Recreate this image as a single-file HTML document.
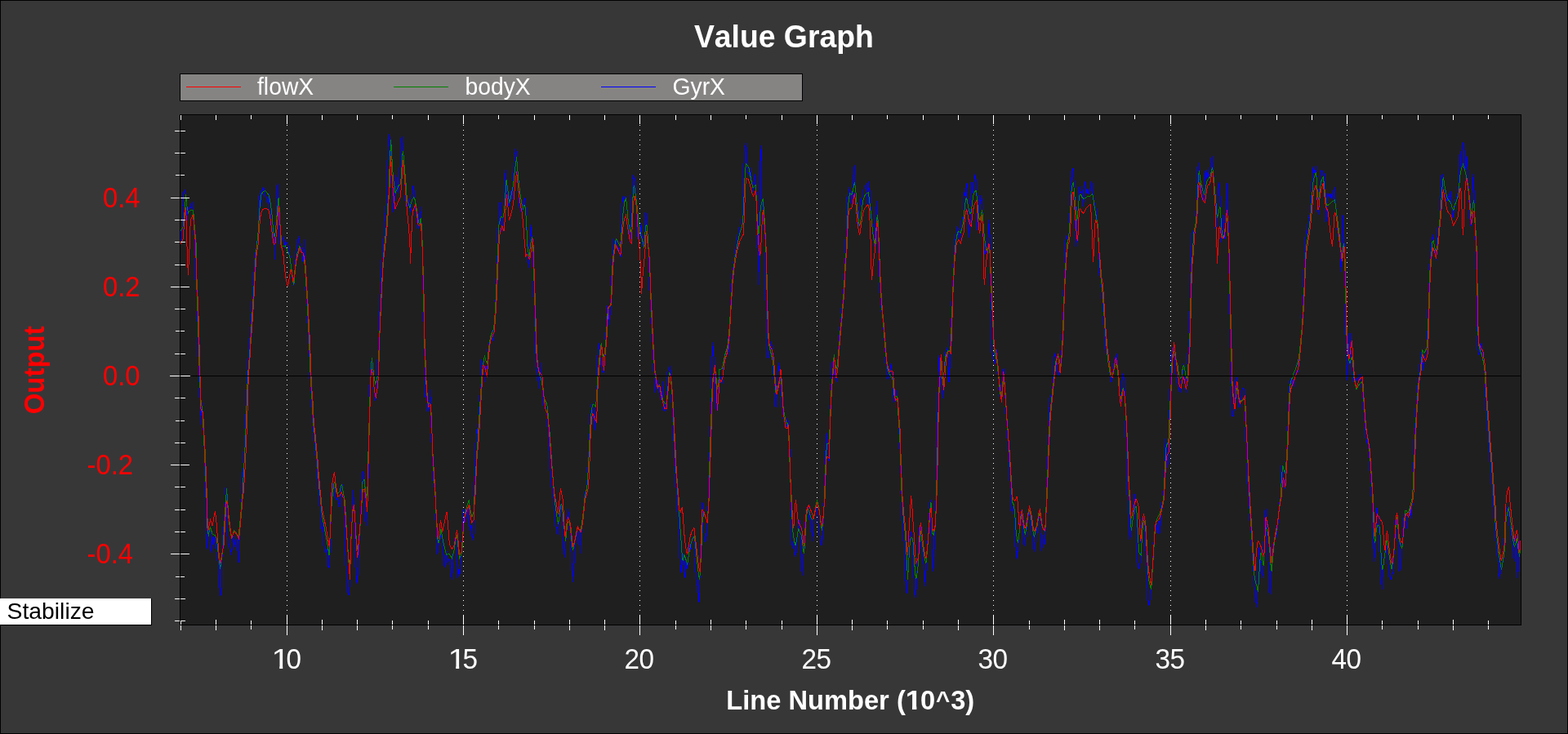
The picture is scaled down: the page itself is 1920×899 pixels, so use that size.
<!DOCTYPE html>
<html lang="en">
<head>
<meta charset="utf-8">
<title>Value Graph</title>
<style>
html,body{margin:0;padding:0;background:#373738;overflow:hidden}
body{width:1920px;height:899px;position:relative;font-family:"Liberation Sans",sans-serif}
#pane{position:absolute;left:0;top:0;width:1920px;height:899px;box-sizing:border-box;border:1px solid #000;background:#373738}
svg{position:absolute;left:0;top:0;display:block}
svg text{font-family:"Liberation Sans",sans-serif;font-kerning:none;font-variant-ligatures:none}
#shapes{shape-rendering:crispEdges}
#mode{position:absolute;left:0;top:733px;width:185px;height:32px;background:#fff;border-right:1px solid #000;border-bottom:1px solid #000;box-sizing:content-box;color:#000;font-size:28.3px;line-height:32px;white-space:nowrap;font-kerning:none}
#mode span{position:absolute;left:8.6px;top:-1px}
</style>
</head>
<body>
<div id="pane"></div>
<svg width="1920" height="899" viewBox="0 0 1920 899">
<defs><clipPath id="k0"><rect x="-2" y="-33.30" width="33.30" height="30.11"/><rect x="8.17" y="-3.69" width="3.34" height="4.49"/></clipPath><clipPath id="k1"><rect x="-2" y="-33.30" width="33.30" height="30.11"/><rect x="8.17" y="-3.69" width="3.34" height="4.49"/></clipPath><clipPath id="k2"><rect x="-2" y="-32.65" width="32.65" height="28.62"/><rect x="7.42" y="-4.53" width="4.88" height="5.33"/></clipPath><clipPath id="cc"><rect x="221" y="141" width="1641" height="624"/></clipPath></defs>
<g id="shapes">
<rect x="220" y="140" width="1643" height="626" fill="#1f1f20"/>
<g id="grid"><line x1="351.5" y1="141" x2="351.5" y2="765" stroke="#fff" stroke-width="1" stroke-dasharray="1 5"/><line x1="567.5" y1="141" x2="567.5" y2="765" stroke="#fff" stroke-width="1" stroke-dasharray="1 5"/><line x1="783.5" y1="141" x2="783.5" y2="765" stroke="#fff" stroke-width="1" stroke-dasharray="1 5"/><line x1="1000.5" y1="141" x2="1000.5" y2="765" stroke="#fff" stroke-width="1" stroke-dasharray="1 5"/><line x1="1216.5" y1="141" x2="1216.5" y2="765" stroke="#fff" stroke-width="1" stroke-dasharray="1 5"/><line x1="1433.5" y1="141" x2="1433.5" y2="765" stroke="#fff" stroke-width="1" stroke-dasharray="1 5"/><line x1="1649.5" y1="141" x2="1649.5" y2="765" stroke="#fff" stroke-width="1" stroke-dasharray="1 5"/></g>
<g id="curves" clip-path="url(#cc)"><polyline points="221.17,295.06 222.26,290.89 223.51,276.71 224.34,235.84 226.43,233.34 227.26,237.51 228.51,251.69 229.34,270.04 230.18,256.69 232.26,253.36 233.93,255.03 235.35,247.1 236.02,255.03 236.85,266.7 237.68,283.38 238.94,299.98 238.94,310 239.69,338.36 240.69,351.71 241.35,363.39 242.02,395.09 242.52,406.76 243.02,436.79 243.69,459.98 243.69,460 244.19,473.35 245.03,486.69 245.36,520.06 246.36,503.38 247.53,493.37 248.36,510.05 249.2,531.74 249.7,541.75 250.36,553.43 250.86,580.12 251.7,598.47 252.03,609.98 252.03,610 252.03,631.69 252.53,655.05 254.2,673.4 255.04,651.71 256.7,646.7 258.04,663.39 259.21,676.73 260.87,656.71 262.54,671.73 263.71,655.05 265.38,666.72 266.71,681.74 268.38,710.1 269.72,730.12 270.88,726.78 271.72,690.08 273.05,653.38 274.22,643.37 275.39,623.35 276.39,610 276.39,596.8 277.56,610 278.39,635.03 279.23,663.39 280.89,670.06 282.56,673.4 283.73,680.07 284.73,658.38 286.4,656.71 287.57,670.06 289.24,660.05 290.9,673.4 292.07,689.25 293.07,660.05 294.24,640.03 295.41,620.01 296.08,610 296.08,609.98 296.41,598.47 296.74,578.45 297.58,583.46 298.41,563.44 299.75,540.08 300.75,515.06 301.75,485.03 302.58,460 302.58,459.98 303.92,440.13 305.42,423.45 306.75,403.43 308.09,383.41 309.26,365.06 310.42,343.37 311.42,326.68 312.26,315.01 312.93,310 316.08,291.72 316.5,270.04 317.33,241.68 318.59,238.34 319.42,233.34 320.25,253.36 321.5,230 322.76,232.51 323.59,231.26 324.42,239.18 326.09,241.68 326.93,245.85 328.18,248.35 329.43,236.68 329.84,245.85 331.1,258.36 332.35,275.04 334.43,286.72 336.1,299.98 336.1,317.51 337.35,278.38 338.19,270.04 338.6,238.34 340.27,225 340.69,241.68 341.52,271.71 341.94,290.05 343.19,299.98 347.63,289.3 348.8,303.48 350.13,296.8 351.8,298.47 353.47,301.81 354.8,309.98 355.14,315.01 356.8,328.35 358.47,345.04 359.81,350.04 360.97,336.69 361.81,320.01 362.64,310 362.64,309.98 365.48,289.3 367.65,301.81 370.15,309.98 370.98,320.84 372.65,292.63 373.15,310 373.82,326.68 374.49,348.37 375.49,363.39 376.49,385.08 377.32,401.76 378.16,425.12 378.99,436.79 379.83,459.98 379.83,460 380.66,476.68 381.83,495.04 383,518.39 384.33,531.74 385.67,548.42 387.33,560.1 388.5,580.12 389.84,598.47 391.5,609.98 391.5,610 392.67,631.69 394.34,651.71 395.51,640.03 397.18,671.73 398.85,676.73 400.51,671.73 401.85,693.42 403.18,695.09 404.02,676.73 405.19,635.03 406.19,610 406.52,609.98 407.69,591.8 409.36,598.47 411.02,609.98 411.86,612.5 413.53,610 416.03,620.84 416.86,610 417.7,598.47 419.37,593.47 420.7,609.98 421.53,610 422.2,635.03 422.7,676.73 423.87,690.08 424.87,710.1 425.54,725.12 427.21,729.29 428.54,711.77 429.38,666.72 430.54,643.37 431.54,623.35 432.21,610 432.21,600.14 432.71,609.98 433.55,610 434.38,643.37 435.55,676.73 436.38,710.1 437.38,715.11 438.55,696.75 439.39,673.4 440.55,651.71 441.55,626.68 442.72,610 442.72,609.98 443.56,578.45 444.89,577.62 446.06,593.47 446.89,609.98 446.89,610 447.23,631.69 448.56,644.2 449.4,626.68 450.23,610 450.23,609.98 451.06,585.13 451.56,550.09 451.9,526.73 452.4,501.71 452.9,476.68 453.23,460 453.23,459.98 454.9,441.8 456.07,455.15 456.9,459.98 457.24,460 458.24,481.69 459.91,490.86 461.07,480.02 462.24,460 462.24,459.98 462.74,446.8 463.58,426.78 464.41,400.09 465.25,373.4 466.25,355.05 466.91,330.02 468.08,316.67 468.92,310 468.92,309.98 469.42,305.15 471.08,270.11 473.25,250.09 474.42,216.72 475.59,176.68 476.42,164.17 477.76,171.68 478.59,193.37 479.43,215.06 480.59,235.08 481.59,260.1 482.76,250.09 483.93,233.41 484.76,214.22 486.1,230.07 487.43,236.74 488.94,226.73 490.27,200.04 491.6,170.01 492.44,167.51 493.61,183.36 494.94,210.05 496.11,230.07 497.28,250.09 498.95,253.43 500.28,242.58 501.61,253.43 502.78,260.1 504.45,243.42 506.12,226.73 507.29,235.08 508.62,253.43 510.29,266.77 511.96,280.12 513.29,273.45 514.46,252.59 515.63,266.77 516.63,283.46 517.3,309.98 517.3,310 517.46,335.03 518.13,358.38 518.63,376.73 519.13,400.09 519.63,426.78 520.3,443.47 520.97,459.98 520.97,460 520.97,486.69 521.97,481.69 523.3,493.37 523.97,504.21 525.64,498.37 526.64,477.52 527.31,493.37 527.81,521.73 528.64,530.07 529.48,555.1 529.98,570.11 530.64,586.79 531.64,591.8 532.65,606.81 533.31,609.98 533.31,610 533.31,623.35 534.15,640.03 534.98,665.06 535.82,679.24 536.98,668.39 538.65,660.05 539.99,651.71 540,651.71 541.67,665.06 543,680.07 544.17,695.09 545.34,683.41 546.67,675.07 548.34,691.75 549.68,685.08 551.34,685.91 552.51,703.43 553.35,710.1 554.68,693.42 555.85,676.73 557.02,658.38 558.69,665.06 560.02,693.42 560.85,707.6 562.02,696.75 563.02,703.43 564.19,688.41 565.86,666.72 567.03,626.68 568.36,623.35 570.03,640.03 571.7,631.69 573.37,621.68 575.37,650.04 577.04,643.37 578.37,661.72 580.04,653.38 580.87,626.68 580.87,598.47 581.37,570.11 582.54,556.76 583.38,530.07 584.21,525.07 585.38,533.41 586.38,510.05 587.55,488.36 588.38,480.02 589.38,465.01 589.55,459.98 589.72,440.13 590.88,446.8 592.55,448.47 594.22,453.48 594.22,467.51 595.06,448.47 596.72,455.15 597.56,435.13 598.39,420.11 600.06,418.44 601.73,413.44 604.23,416.77 605.07,403.43 605.9,390.08 606.73,376.73 607.23,360.05 607.9,346.7 608.4,320.01 609.24,310 609.24,309.98 610.07,276.78 611.4,248.42 613.41,248.42 614.24,283.46 615.91,276.78 617.08,260.1 618.08,223.4 619.25,208.38 620.41,230.07 621.75,240.08 622.92,253.43 623.92,240.08 625.42,233.41 626.75,246.75 628.09,233.41 629.26,205.05 630.42,195.04 631.42,182.52 632.59,188.36 633.43,210.05 634.76,230.07 635.6,250.09 637.1,255.1 638.43,260.1 639.77,253.43 641.43,246.75 643.44,241.75 644.27,260.1 645.11,280.12 646.27,305.15 646.77,320.01 647.61,328.35 648.44,316.67 649.28,283.46 650.44,275.12 651.44,298.47 652.61,310 653.11,331.69 653.78,353.38 654.28,376.73 655.12,403.43 655.95,430.12 656.45,451.81 657.62,455.15 658.79,459.98 659.29,475.85 660.12,463.34 661.45,444.3 662.62,459.98 663.46,461.67 664.29,476.68 665.13,496.7 666.79,493.37 668.46,500.04 670.13,510.05 671.3,526.73 672.3,540.08 673.13,553.43 673.8,573.45 674.63,588.46 675.97,596.8 677.14,606.81 678.14,609.98 678.14,610 678.81,618.34 679.47,636.69 680.97,645.04 682.14,646.7 683.14,655.05 683.98,643.37 685.15,626.68 686.48,616.67 687.65,620.01 688.48,640.03 689.32,668.39 690.65,675.07 691.48,683.41 692.65,665.06 693.82,653.38 694.82,633.36 695.66,623.35 696.82,635.03 698.16,651.71 699.33,665.06 700.49,683.41 701.49,713.44 702.66,696.75 703.83,675.07 705.17,665.06 706.83,650.04 708.5,651.71 709.84,665.06 710.5,677.57 711.5,660.05 712.67,643.37 713.84,630.02 714.84,623.35 715.51,610 715.51,606.81 716.51,603.48 718.18,600.14 719.35,583.46 720.51,563.44 721.51,543.42 722.18,526.73 722.68,508.38 724.02,501.71 725.19,494.2 726.52,506.71 727.35,516.72 728.19,526.73 729.02,503.38 729.86,493.37 730.52,481.69 731.36,465.01 731.36,446.8 731.86,436.79 733.19,420.11 734.03,426.78 735.2,440.13 736.53,443.47 737.36,455.15 739.37,455.98 740.2,438.46 741.03,426.78 741.87,410.1 742.7,395.09 743.54,375.07 744.87,376.73 745.71,388.41 746.54,398.42 747.37,376.73 748.21,363.39 748.88,341.7 749.54,325.02 750.21,313.34 750.54,309.98 751.54,291.8 752.71,300.14 754.05,293.47 755.55,298.47 756.88,303.48 758.55,305.15 759.39,309.98 760.22,315.01 760.55,291.8 761.55,253.43 762.72,241.75 763.56,243.42 764.39,250.09 765.23,243.42 766.39,240.08 767.23,250.09 768.23,260.1 769.4,273.45 770.73,291.8 771.9,296.8 772.73,266.77 773.57,246.75 774.4,230.07 775.24,214.22 776.57,216.72 778.24,222.56 778.91,238.41 779.41,263.44 779.91,283.46 781.07,290.13 782.74,293.47 783.91,286.79 785.25,273.45 786.08,290.13 787.25,301.81 788.58,298.47 789.42,276.78 790.75,260.1 791.92,263.44 792.75,280.12 793.59,300.14 794.42,309.98 794.42,310 794.92,331.69 795.59,346.7 796.42,365.06 797.26,388.41 798.26,400.09 798.93,416.77 799.59,435.13 800.26,443.47 801.09,456.81 801.93,459.98 801.93,460 802.76,480.85 803.93,470.01 805.27,465.01 806.6,473.35 808.1,481.69 809.44,490.03 810.6,481.69 811.44,466.67 812.27,503.38 813.61,495.04 814.94,504.21 816.11,490.03 816.94,473.35 817.78,460 817.78,455.15 819.45,451.81 820.61,447.64 821.61,459.98 821.61,460 822.28,476.68 823.12,495.04 823.95,515.06 824.78,535.08 825.62,553.43 826.45,568.44 827.29,583.46 828.12,598.47 829.12,606.81 829.79,609.98 829.79,610 829.96,626.68 830.62,631.69 831.62,643.37 832.79,676.73 833.63,701.76 834.79,696.75 835.8,676.73 836.96,681.74 838.13,703.43 838.97,708.43 839.97,686.74 841.13,696.75 842.3,690.08 843.3,676.73 844.47,666.72 846.14,673.4 847.31,661.72 848.64,658.38 849.98,660.05 851.14,685.08 852.31,706.76 853.65,713.44 854.81,723.45 856.15,738.46 856.98,710.1 857.82,666.72 858.99,660.05 859.99,623.35 860,615.01 860.83,643.37 862,653.38 863.34,663.39 864.67,661.72 865.84,646.7 866.67,626.68 867.51,610 867.51,605.15 867.84,590.13 868.34,568.44 869.18,550.09 869.68,533.41 870.34,510.05 870.84,493.37 871.34,476.68 871.68,460 871.68,446.8 872.51,419.28 873.68,430.12 874.51,446.8 875.02,459.98 875.35,460 876.18,498.37 877.52,502.54 878.69,485.03 880.02,470.01 881.35,460 882.52,461.67 884.19,470.01 885.03,460 885.03,459.98 886.36,446.8 887.53,436.79 889.2,430.12 890.86,425.12 891.7,435.13 892.53,423.45 893.37,413.44 893.87,393.42 894.53,380.07 895.37,356.71 896.2,345.04 897.04,335.03 898.04,326.68 899.21,318.34 900.37,310 900.87,306.81 902.21,293.47 903.71,288.46 905.38,278.45 906.71,283.46 908.38,276.78 909.55,260.1 910.38,218.39 911.38,190.03 912.55,181.69 913.39,175.02 914.55,185.03 915.39,208.38 916.72,215.06 918.06,205.05 919.23,210.05 920.39,216.72 921.39,226.73 922.56,235.08 923.73,225.07 924.56,213.39 925.57,216.72 926.23,243.42 926.73,273.45 927.57,296.8 928.4,309.98 928.4,349.21 929.24,326.68 929.74,310 929.74,283.46 930.4,226.73 931.4,178.35 932.24,185.03 932.91,243.42 933.91,251.76 934.74,266.77 935.58,280.12 936.74,285.13 937.58,309.98 937.58,310 937.74,335.03 938.08,376.73 938.41,418.44 939.25,436.79 940.91,438.46 942.58,433.46 943.92,423.45 944.58,417.61 945.42,426.78 946.42,440.13 947.09,459.98 948.09,465.01 949.26,481.69 950.09,499.21 950.92,490.03 951.76,476.68 952.59,465.01 953.43,444.3 954.76,451.81 955.43,459.98 955.93,465.01 956.76,481.69 957.93,498.37 959.27,510.05 960.6,515.06 961.77,518.39 963.1,523.4 964.27,512.55 965.11,515.06 965.77,526.73 966.44,546.75 967.27,551.76 967.61,575.12 968.11,593.47 968.44,609.98 968.44,610 969.28,643.37 970.11,671.73 971.44,663.39 972.61,668.39 974.28,681.74 975.45,673.4 976.45,660.05 977.62,641.7 979.29,636.69 980.12,660.05 980.95,686.74 981.79,698.42 982.62,705.1 983.46,690.08 984.29,673.4 985.13,651.71 986.29,635.03 987.63,625.02 989.3,620.01 990.63,636.69 991.8,628.35 992.97,638.36 993.97,651.71 994.63,663.39 995.47,648.37 996.8,633.36 998.14,623.35 999.31,620.01 1000.97,630.02 1002.14,643.37 1003.48,651.71 1004.81,663.39 1005.98,668.39 1007.15,660.05 1007.98,643.37 1008.82,620.01 1009.32,610 1009.32,609.98 1009.65,590.13 1010.48,566.77 1010.98,553.43 1011.48,536.74 1012.32,530.07 1013.15,543.42 1013.99,556.76 1015.16,565.11 1015.66,543.42 1016.32,526.73 1016.82,501.71 1017.32,486.69 1017.99,470.01 1018.49,460 1018.49,446.8 1019.66,441.8 1020.49,459.98 1021.49,461.67 1022.16,451.81 1023.16,459.98 1024.33,467.51 1025.17,455.15 1026,440.13 1026.83,426.78 1027.67,413.44 1028.84,401.76 1029.84,390.08 1031,376.73 1032.17,365.06 1033.17,351.71 1034.01,335.03 1034.84,318.34 1035.51,310 1035.51,306.81 1036.01,293.47 1036.51,256.76 1037.34,241.75 1038.51,243.42 1039.35,235.08 1040.51,229.24 1041.51,236.74 1042.68,246.75 1043.52,251.76 1044.35,240.08 1045.19,206.71 1046.35,202.54 1047.19,226.73 1048.19,243.42 1049.02,260.1 1049.86,273.45 1051.02,276.78 1052.19,266.77 1053.19,250.09 1054.36,241.75 1055.53,251.76 1056.86,246.75 1058.03,231.74 1059.37,228.4 1061.37,225.07 1062.2,248.42 1063.2,250.09 1064.37,221.73 1065.21,236.74 1066.04,253.43 1067.21,263.44 1068.21,276.78 1069.38,286.79 1070.54,301.81 1071.54,280.12 1072.38,261.77 1073.55,245.92 1074.38,276.78 1075.22,301.81 1076.05,309.98 1076.05,310 1076.38,326.68 1077.22,343.37 1078.05,360.05 1078.89,376.73 1080.22,383.41 1081.39,393.42 1082.39,410.1 1083.56,423.45 1084.39,436.79 1085.23,448.47 1086.06,459.98 1086.56,463.34 1087.73,464.17 1089.4,455.15 1090.73,445.14 1091.9,455.15 1092.73,459.98 1093.23,465.01 1093.57,476.68 1094.4,493.37 1095.57,490.03 1096.9,476.68 1097.74,484.19 1098.91,486.69 1099.74,501.71 1100.57,515.06 1101.07,533.41 1101.91,546.75 1102.41,563.44 1103.08,581.79 1103.91,603.48 1104.41,609.98 1104.41,610 1104.74,635.03 1105.58,643.37 1106.58,660.05 1107.75,666.72 1108.58,700.09 1109.42,723.45 1110.25,726.78 1111.42,710.1 1112.25,676.73 1113.25,660.05 1114.42,653.38 1115.59,651.71 1116.92,660.05 1118.09,683.41 1118.93,706.76 1119.76,720.11 1120.76,728.45 1121.59,731.79 1122.43,713.44 1123.26,693.42 1124.43,676.73 1125.27,650.04 1126.43,643.37 1127.43,646.7 1128.6,666.72 1129.94,683.41 1131.1,691.75 1132.27,700.09 1133.27,717.61 1134.11,696.75 1135.28,673.4 1136.61,653.38 1137.78,631.69 1138.95,615.01 1139.45,611.67 1140.28,631.69 1141.11,660.05 1141.95,680.07 1142.78,700.09 1143.62,685.08 1144.45,660.05 1145.29,635.03 1146.12,610 1146.12,609.98 1146.29,590.13 1146.62,566.77 1146.95,543.42 1147.45,518.39 1148.12,501.71 1148.96,481.69 1149.46,468.34 1149.96,460 1149.96,438.46 1150.62,435.13 1151.12,459.98 1151.96,460 1153.29,473.35 1154.46,488.36 1155.3,476.68 1156.13,460 1156.96,459.98 1157.8,431.79 1159.47,428.45 1160.63,425.12 1161.13,440.13 1161.63,459.98 1161.97,468.34 1162.8,459.98 1163.3,436.79 1163.64,413.44 1164.47,403.43 1165.31,383.41 1166.14,366.72 1166.97,343.37 1167.81,326.68 1168.64,310 1168.64,309.98 1168.98,293.47 1170.31,291.8 1171.64,280.12 1172.81,277.62 1173.98,283.46 1175.32,293.47 1176.48,286.79 1177.48,273.45 1178.65,265.11 1179.49,268.44 1180,266.77 1180.83,235.08 1182,240.08 1183,230.07 1184.17,224.23 1185.01,243.42 1185.84,276.78 1186.67,290.96 1188.01,273.45 1189.18,253.43 1190.01,223.4 1191.18,226.73 1192.01,236.74 1193.01,223.4 1194.18,213.39 1195.35,221.73 1196.18,240.08 1196.68,281.79 1198.02,266.77 1199.19,240.08 1200.35,239.25 1201.35,250.09 1202.19,243.42 1203.02,260.1 1203.69,280.12 1204.69,293.47 1205.86,309.98 1205.86,311.67 1206.69,310 1207.53,303.48 1208.7,309.98 1209.7,298.47 1210.53,280.12 1211.36,269.28 1212.03,286.79 1212.53,309.98 1212.53,310 1212.87,346.7 1213.7,365.06 1214.2,386.74 1214.7,410.1 1215.04,433.46 1216.37,436.79 1217.54,443.47 1218.71,445.14 1220.04,427.62 1220.87,443.47 1221.71,455.15 1222.21,459.98 1223.04,465.01 1223.88,476.68 1224.71,485.03 1225.88,488.36 1226.71,476.68 1227.21,463.34 1227.55,453.48 1229.22,451.81 1229.72,459.98 1230.05,468.34 1230.88,485.03 1231.72,501.71 1232.55,516.72 1233.39,526.73 1234.22,540.08 1235.06,553.43 1235.56,566.77 1236.39,576.78 1237.06,590.13 1237.56,603.48 1237.89,609.98 1237.89,610 1238.39,625.02 1239.73,625.85 1240.89,620.01 1242.06,630.02 1243.06,650.04 1243.9,668.39 1244.73,683.41 1245.57,681.74 1246.4,670.06 1247.57,660.05 1248.74,643.37 1249.74,631.69 1250.9,625.02 1252.07,643.37 1253.07,656.71 1254.24,669.23 1255.41,663.39 1256.74,651.71 1258.08,640.03 1259.25,630.02 1260.41,626.68 1261.75,636.69 1262.92,646.7 1263.92,655.05 1265.09,663.39 1266.25,675.9 1267.25,671.73 1268.42,660.05 1269.59,646.7 1270.92,638.36 1272.09,633.36 1273.43,635.03 1274.26,660.05 1275.43,675.07 1276.43,668.39 1277.6,655.05 1278.43,665.06 1279.6,666.72 1280.43,643.37 1281.27,623.35 1281.43,610 1281.43,606.81 1281.77,590.13 1282.44,573.45 1283.1,556.76 1283.77,540.08 1284.27,523.4 1284.77,503.38 1285.61,490.03 1286.44,483.36 1287.61,490.03 1288.44,480.02 1289.28,470.01 1290.11,460 1290.11,453.48 1290.94,436.79 1292.61,432.62 1293.78,441.8 1295.12,456.81 1296.28,459.98 1297.28,451.81 1298.45,443.47 1299.79,433.46 1300.62,418.44 1301.29,403.43 1301.79,390.08 1302.29,373.4 1302.96,356.71 1303.46,343.37 1304.12,326.68 1304.79,310 1304.79,306.81 1305.13,288.46 1306.46,290.13 1307.63,293.47 1308.8,290.13 1309.8,266.77 1310.96,236.74 1312.13,215.06 1313.13,208.38 1314.3,205.88 1315.14,223.4 1315.97,243.42 1316.8,273.45 1317.64,301.81 1318.47,290.13 1319.31,266.77 1320.14,250.09 1321.31,235.08 1322.14,228.4 1323.14,236.74 1324.31,235.08 1325.48,233.41 1326.48,253.43 1327.31,245.09 1328.15,223.4 1328.98,222.56 1329.82,230.07 1330.98,236.74 1332.15,231.74 1333.15,235.08 1334.32,238.41 1335.49,230.07 1336.49,222.56 1337.66,226.73 1338.49,238.41 1339.83,246.75 1340.99,253.43 1342.16,255.1 1343.16,260.1 1344,273.45 1344.83,286.79 1345.17,303.48 1345.17,310 1345.67,330.02 1346.5,338.36 1347.33,331.69 1348.17,343.37 1349,351.71 1349.84,363.39 1350.67,376.73 1351.5,390.08 1352.34,403.43 1353.17,416.77 1353.84,426.78 1354.67,432.62 1356.01,433.46 1357.18,440.13 1358.18,446.8 1359.01,456.81 1359.68,459.98 1359.85,461.67 1361.01,467.51 1362.18,463.34 1363.18,451.81 1364.35,441.8 1366.02,436.79 1367.35,434.29 1368.19,443.47 1369.02,453.48 1369.86,459.98 1369.86,463.34 1370.52,476.68 1371.36,490.03 1372.19,493.37 1373.19,480.02 1373.86,468.34 1374.36,460 1375.53,457.65 1376.03,461.67 1376.86,475.02 1377.7,488.36 1378.2,503.38 1378.53,523.4 1379.03,536.74 1379.37,553.43 1379.7,570.11 1380.2,590.13 1380.7,603.48 1381.53,609.98 1381.53,610 1382.2,635.03 1383.04,656.71 1383.87,660.88 1384.87,643.37 1386.04,631.69 1387.21,623.35 1388.54,613.34 1389.04,604.81 1389.88,620.01 1391.04,636.69 1391.88,660.05 1392.71,686.74 1393.88,695.09 1394.88,696.75 1396.05,690.08 1396.88,681.74 1397.72,646.7 1398.55,635.03 1399.39,633.36 1400.55,640.03 1401.89,648.37 1402.72,666.72 1403.56,690.08 1404.39,710.1 1405.23,723.45 1406.06,736.79 1407.23,741.8 1408.23,733.46 1409.4,723.45 1410.23,710.1 1411.06,696.75 1411.9,683.41 1412.73,668.39 1413.57,655.05 1414.4,646.7 1415.57,640.03 1416.57,653.38 1417.74,641.7 1419.07,638.36 1419.91,654.21 1421.07,643.37 1421.91,618.34 1422.74,615.01 1423.58,623.35 1424.41,613.34 1424.91,610 1424.91,605.15 1425.25,590.13 1426.08,573.45 1426.58,556.76 1427.25,536.74 1428.25,543.42 1428.92,556.76 1429.75,573.45 1430.58,560.1 1431.08,533.41 1431.58,510.05 1432.25,496.7 1432.75,481.69 1433.25,470.01 1433.59,459.98 1434.42,436.79 1435.59,425.12 1436.92,430.12 1438.26,440.13 1439.43,453.48 1440.26,459.98 1440.59,461.67 1441.93,468.34 1443.6,475.02 1445.27,480.85 1446.43,470.01 1447.43,463.34 1448.27,455.15 1449.44,445.14 1450.6,451.81 1451.6,459.98 1451.6,470.01 1452.27,480.85 1453.27,468.34 1454.11,460 1454.44,443.47 1455.28,426.78 1456.11,413.44 1456.61,400.09 1456.94,383.41 1457.44,366.72 1457.78,343.37 1458.28,326.68 1458.95,310 1458.95,306.81 1459.11,293.47 1460.28,281.79 1461.61,288.46 1462.78,280.12 1464.12,273.45 1464.95,260.1 1465.79,233.41 1466.62,208.38 1467.45,199.21 1468.29,215.06 1469.12,231.74 1470.29,226.73 1471.62,235.08 1472.79,240.08 1473.96,246.75 1474.96,226.73 1475.8,209.22 1476.63,221.73 1477.46,215.06 1478.3,208.38 1479.13,218.39 1480.3,213.39 1481.47,215.06 1482.3,200.04 1483.3,196.7 1484.47,190.86 1485.31,203.38 1486.14,216.72 1486.97,230.07 1488.14,253.43 1488.98,280.12 1489.81,266.77 1490.81,253.43 1491.98,230.07 1493.31,223.4 1494.15,243.42 1494.98,276.78 1495.82,296.8 1496.65,280.12 1497.48,263.44 1498.32,276.78 1498.99,291.8 1499.99,288.46 1500,292.63 1500.5,276.78 1501.17,260.1 1502,246.75 1502.5,233.41 1503,224.23 1503.5,240.08 1504,270.11 1504.5,293.47 1504.67,309.98 1504.67,310 1505.01,335.03 1505.51,360.05 1506.01,385.08 1506.34,401.76 1506.67,416.77 1507.17,430.12 1507.51,443.47 1507.84,459.98 1507.84,460 1508.01,470.01 1508.17,490.03 1508.34,509.22 1509.51,509.22 1510.84,509.22 1511.34,493.37 1512.01,476.68 1513.01,465.01 1514.18,461.67 1514.68,473.35 1515.35,485.03 1516.18,490.03 1517.18,493.37 1518.02,499.21 1518.85,493.37 1520.02,485.03 1521.19,476.68 1522.19,475.02 1523.36,476.68 1523.86,485.03 1524.36,496.7 1524.69,510.05 1525.36,523.4 1525.86,536.74 1526.36,550.09 1527.03,563.44 1527.53,576.78 1527.86,590.13 1528.7,603.48 1529.36,609.98 1529.36,610 1530.03,623.35 1530.86,635.03 1531.7,648.37 1532.53,660.05 1533.37,675.07 1534.2,690.08 1535.04,700.09 1535.87,716.77 1536.7,730.12 1537.87,736.79 1538.71,744.3 1539.54,730.12 1540.37,710.1 1541.21,683.41 1542.04,670.06 1543.04,680.07 1544.21,690.08 1545.38,708.43 1546.38,703.43 1547.55,693.42 1548.05,660.05 1548.72,631.69 1549.55,626.68 1550.38,623.35 1550.88,643.37 1551.72,656.71 1552.55,680.07 1553.39,693.42 1554.22,713.44 1554.72,725.12 1555.56,726.78 1556.39,716.77 1557.06,693.42 1557.56,670.06 1558.39,668.39 1559.56,665.06 1560.89,661.72 1562.23,658.38 1563.4,656.71 1564.23,646.7 1565.07,640.03 1565.57,631.69 1566.4,620.01 1567.23,613.34 1568.07,610 1568.07,605.15 1568.74,586.79 1569.24,570.11 1570.07,576.78 1570.9,586.79 1571.74,596.8 1572.57,591.8 1573.41,598.47 1574.24,583.46 1575.08,563.44 1575.91,550.09 1576.41,536.74 1577.08,520.06 1577.58,503.38 1578.08,490.03 1578.75,475.02 1579.75,466.67 1580.91,463.34 1582.08,470.01 1583.42,465.01 1584.25,474.18 1585.09,465.01 1585.92,460 1586.42,459.98 1587.59,455.15 1588.92,456.81 1590.09,443.47 1591.42,435.13 1592.59,423.45 1593.43,413.44 1594.26,403.43 1594.76,390.08 1595.43,376.73 1595.93,363.39 1596.43,350.04 1596.76,336.69 1597.26,323.35 1597.93,310 1598.1,306.81 1598.77,293.47 1599.6,281.79 1600.6,286.79 1601.77,276.78 1602.6,266.77 1603.77,266.77 1604.77,253.43 1605.61,243.42 1606.44,233.41 1607.27,216.72 1608.11,204.21 1608.94,211.72 1609.78,208.38 1610.61,211.72 1611.44,203.38 1612.11,216.72 1612.95,226.73 1613.45,253.43 1614.28,263.44 1615.12,250.09 1615.95,231.74 1616.78,216.72 1617.62,210.05 1618.79,208.38 1619.79,210.05 1620.95,215.06 1622.29,213.39 1622.96,233.41 1623.46,260.1 1623.96,271.78 1624.79,253.43 1625.63,238.41 1626.79,240.08 1627.96,236.74 1628.96,243.42 1629.8,236.74 1630.96,241.75 1631.8,243.42 1632.63,233.41 1633.97,231.74 1634.8,229.24 1635.47,246.75 1636.3,260.1 1637.14,273.45 1638.14,283.46 1639.31,291.8 1640.47,298.47 1641.47,305.15 1641.47,333.36 1642.31,323.35 1643.14,310 1643.81,263.44 1644.64,265.11 1645.15,298.47 1645.98,296.8 1646.48,309.98 1646.48,310 1646.81,335.03 1647.15,360.05 1647.48,380.07 1647.81,400.09 1648.15,416.77 1648.82,433.46 1649.32,451.81 1649.48,459.98 1649.65,465.84 1650.15,459.98 1650.65,455.15 1651.48,436.79 1652.15,416.77 1652.99,407.6 1653.82,426.78 1654.82,440.13 1655.66,456.81 1656.32,459.98 1656.49,461.67 1657.66,466.67 1659.33,465.01 1660.99,463.34 1662.66,466.67 1664.33,463.34 1665.17,457.65 1666.33,461.67 1667.33,465.01 1668.17,476.68 1668.84,486.69 1669.67,496.7 1670.5,508.38 1671.34,520.06 1672.34,530.07 1673.51,542.58 1674.67,540.08 1675.51,543.42 1676.34,553.43 1677.18,563.44 1677.68,573.45 1678.51,583.46 1679.01,593.47 1679.68,605.15 1680.18,609.98 1680.18,610 1680.51,631.69 1681.01,651.71 1681.85,668.39 1682.68,687.58 1683.52,676.73 1684.35,660.05 1685.19,643.37 1686.02,621.68 1686.85,630.02 1688.02,641.7 1689.02,653.38 1689.86,673.4 1690.69,690.08 1691.52,706.76 1692.36,721.78 1693.19,703.43 1694.03,690.08 1695.2,680.07 1696.36,673.4 1697.36,663.39 1698.53,673.4 1699.7,686.74 1700.7,700.09 1701.87,706.76 1703.04,710.1 1704.37,702.59 1706.04,701.76 1706.87,683.41 1707.71,660.05 1708.54,643.37 1709.38,631.69 1710.21,633.36 1711.04,643.37 1711.88,660.05 1712.71,676.73 1713.55,700.09 1715.22,696.75 1716.05,683.41 1716.88,666.72 1717.72,651.71 1718.55,638.36 1719.39,630.02 1720.22,631.69 1721.05,640.03 1721.89,648.37 1722.72,641.7 1723.56,635.03 1724.39,631.69 1725.56,628.35 1726.56,626.68 1727.73,625.02 1728.23,635.03 1728.9,620.01 1729.73,610 1729.73,609.98 1730.23,590.13 1730.73,573.45 1731.4,556.76 1731.9,540.08 1732.73,523.4 1733.57,506.71 1734.4,493.37 1735.24,481.69 1736.07,471.68 1736.9,463.34 1737.74,460 1737.74,459.98 1738.57,451.81 1739.41,441.8 1740.57,430.95 1741.57,440.13 1742.74,454.31 1743.58,443.47 1744.74,436.79 1746.08,433.46 1746.91,426.78 1747.58,416.77 1748.08,403.43 1748.58,390.08 1749.08,376.73 1749.58,360.05 1750.08,343.37 1750.58,330.02 1751.25,318.34 1751.92,310 1751.92,306.81 1752.75,298.47 1754.42,286.79 1755.26,293.47 1756.42,301.81 1757.76,309.98 1758.26,319.18 1759.43,298.47 1760.59,280.12 1761.43,278.45 1762.26,286.79 1763.1,266.77 1763.93,243.42 1764.76,215.06 1765.77,214.22 1766.6,213.39 1767.43,226.73 1768.6,236.74 1769.94,240.08 1771.1,243.42 1772.27,246.75 1773.61,236.74 1774.77,246.75 1776.11,234.24 1777.28,243.42 1778.11,256.76 1778.95,266.77 1780.28,260.1 1781.45,250.09 1782.78,245.09 1784.12,240.08 1785.29,236.74 1786.45,223.4 1787.29,200.04 1788.29,185.03 1789.12,193.37 1789.96,206.71 1791.12,175.02 1791.96,174.18 1793.13,185.03 1793.96,208.38 1795.3,203.38 1796.13,190.86 1796.96,206.71 1797.8,223.4 1798.63,240.08 1799.47,256.76 1800.3,273.45 1801.47,276.78 1802.47,260.1 1803.3,223.4 1804.47,213.39 1805.31,243.42 1806.14,273.45 1806.97,293.47 1807.81,309.98 1807.81,310 1807.97,326.68 1808.14,338.36 1808.31,360.05 1808.48,376.73 1808.64,393.42 1809.14,410.1 1809.81,426.78 1810.64,433.46 1811.64,434.29 1812.81,430.12 1814.15,420.11 1814.81,426.78 1815.65,438.46 1816.65,443.47 1817.48,451.81 1818.32,459.98 1818.32,460 1818.32,468 1818.4,475 1819.5,495 1820.5,510 1821.5,520 1822.5,535 1823.5,548 1824.5,560 1825.5,572 1826.5,585 1827.5,600 1828.4,612 1829.3,625 1830.4,640 1831.3,655 1832.5,668 1833.6,678.7 1835.4,690 1835.5,703.5 1836.5,708.7 1837.4,698 1838.5,693 1839.4,689 1840.5,686 1841.6,683 1842.3,642 1843.5,635 1844.6,632 1845.5,627.5 1845.8,622.3 1846.6,620 1847.5,628 1848.4,640 1849.5,648 1850.7,653.5 1851.5,660 1852.4,670 1853.6,680 1854.4,688 1854.6,674 1855.3,665 1856.4,656 1857.3,670 1857.4,690 1858.5,707.9 1859.6,690 1860.5,662" fill="none" stroke="#0000ff" stroke-width="1"/><polyline points="221.17,282.55 223.92,278.38 226.01,260.03 227.68,238.34 228.51,250.02 230.6,260.86 233.51,257.11 236.43,257.11 237.27,265.03 238.52,281.71 239.77,294.22 240.19,299.98 240.19,310 240.35,338.36 241.35,363.39 242.52,395.09 243.69,436.79 244.36,459.98 244.36,460 245.03,475.02 246.36,495.04 247.53,498.37 248.36,510.05 249.36,531.74 250.36,553.43 251.36,575.12 252.37,598.47 253.03,609.98 253.03,610 253.37,631.69 254.2,651.71 255.37,655.05 257.54,645.04 260.04,654.21 263.71,655.88 265.38,660.05 267.05,676.73 268.72,690.08 269.72,696.75 271.38,683.41 273.05,671.73 274.72,643.37 275.89,623.35 276.72,610 277.56,598.47 278.39,610 280.06,635.03 282.56,655.05 284.23,658.38 286.4,650.04 289.24,652.54 291.74,656.71 293.41,645.04 295.08,626.68 296.41,610 296.74,609.98 297.58,593.47 298.41,576.78 299.25,563.44 300.41,540.08 301.41,515.06 302.25,490.03 303.08,468.34 303.42,460 303.42,459.98 305.09,440.13 306.42,423.45 307.59,403.43 308.92,383.41 310.09,365.06 311.09,348.37 312.09,331.69 313.09,315.01 313.59,310 314.42,299.98 315.67,290.05 316.92,271.71 318.17,252.52 319.84,238.34 322.34,234.59 324.42,233.76 326.93,235.84 329.01,239.18 330.68,245.85 331.93,254.19 333.18,264.2 334.02,275.04 334.85,285.05 336.1,290.05 337.35,283.38 338.6,270.04 339.85,253.36 341.1,241.68 341.94,252.52 342.77,271.71 344.02,288.39 344.86,299.98 344.86,301.81 346.79,301.81 349.3,300.97 350.96,305.15 352.63,309.98 353.47,310 355.14,316.67 356.8,328.35 358.47,343.37 359.81,349.21 360.97,336.69 362.64,320.01 363.81,310 364.31,309.98 366.81,301.81 368.48,306.81 370.15,309.98 370.98,310 372.15,315.01 373.49,326.68 374.82,348.37 376.16,368.39 377.32,393.42 378.49,416.77 379.33,436.79 380.16,459.98 380.16,460 381.16,476.68 382.33,493.37 383.5,518.39 385.17,531.74 386.83,550.09 388.5,566.77 389.5,580.12 391,598.47 392.34,609.98 392.34,610 393.84,626.68 396.01,640.03 398.51,653.38 401.01,666.72 403.02,680.07 404.02,660.05 405.19,635.03 406.52,610 406.85,609.98 408.52,593.47 409.86,590.13 411.52,601.81 413.53,604.31 416.03,601.81 418.53,592.63 420.2,601.81 421.53,609.98 421.87,610 423.2,630.02 424.87,656.71 426.54,680.07 428.21,698.42 429.04,685.08 430.21,651.71 431.88,626.68 433.55,620.01 435.22,643.37 436.55,665.06 437.72,673.4 439.39,663.39 441.05,643.37 442.72,620.01 443.56,610 443.56,609.98 443.89,590.13 446.06,587.63 447.23,598.47 448.56,609.98 449.9,601.81 450.56,568.44 451.4,540.08 452.23,510.05 453.07,485.03 453.9,460 454.07,459.98 455.24,438.46 456.57,448.47 457.74,459.98 458.24,460 459.41,470.01 460.57,468.34 461.91,461.67 463.24,459.98 464.08,426.78 465.25,400.09 466.25,376.73 467.25,355.05 468.25,335.03 469.25,316.67 469.92,310 469.92,309.98 471.58,293.47 473.25,276.78 474.92,250.09 476.45,234.98 476.45,212.54 477.36,203.37 477.36,185.02 478.53,184.19 478.53,170.84 479.2,179.18 479.62,195.03 480.62,195.86 480.62,210.88 481.7,211.71 481.7,221.72 482.7,222.55 483.37,233.39 484.2,236.31 485.04,234.23 486.71,230.89 487.96,227.56 490.04,225.89 490.46,219.22 491.54,218.38 491.54,206.71 492.38,203.37 492.38,192.53 493.38,185.02 494.21,191.69 494.63,201.7 495.46,202.54 495.63,213.38 496.71,213.38 496.71,224.22 497.55,224.22 497.55,234.98 498.95,246.75 501.95,254.26 504.45,245.09 506.62,241.75 508.29,245.09 509.96,255.1 511.96,268.44 513.63,275.12 515.3,266.77 516.63,280.12 517.46,309.98 517.46,310 517.96,335.03 518.63,358.38 519.3,400.09 519.97,426.78 520.8,443.47 521.3,459.98 521.3,460 521.97,470.01 522.97,485.03 523.97,493.37 526.97,494.2 527.97,508.38 528.98,530.07 529.81,555.1 530.81,573.45 531.98,591.8 532.98,606.81 533.65,609.98 533.65,610 533.65,623.35 534.65,640.03 535.82,660.05 536.98,665.06 538.65,658.38 539.99,649.21 540,648.37 542,660.05 544.17,670.06 546.67,679.24 550.01,678.4 553.35,683.41 555.85,675.07 558.02,660.05 559.69,655.05 560.85,668.39 562.52,684.24 564.69,680.07 566.36,668.39 567.53,643.37 569.2,630.02 571.7,620.01 574.2,612.5 575.87,625.02 578.04,633.36 580.04,626.68 580.87,615.01 580.87,609.98 582.04,593.47 583.04,570.11 583.88,553.43 585.05,540.08 586.38,518.39 587.55,500.04 588.72,480.02 589.72,466.67 590.05,459.98 591.38,448.47 593.39,435.13 595.06,441.8 596.72,445.14 597.56,435.13 598.73,425.12 600.39,413.44 602.56,406.76 604.23,403.43 605.57,393.42 606.4,380.07 607.23,366.72 608.07,346.7 608.74,330.02 609.57,310 609.74,305.15 610.9,275.12 613.41,265.11 615.91,266.77 617.58,258.43 618.75,240.08 620.08,220.06 621.75,231.74 623.42,248.42 625.09,243.42 627.09,233.41 628.76,225.07 630.42,208.38 632.59,192.53 633.76,206.71 635.43,225.07 637.1,238.41 638.77,248.42 640.43,256.76 642.1,250.92 643.44,253.43 644.77,276.78 645.94,301.81 647.11,309.98 647.61,311.67 648.44,315.01 649.28,300.14 651.78,290.13 652.61,301.81 653.11,310 653.45,326.68 654.28,351.71 655.12,376.73 655.95,403.43 656.78,430.12 657.95,443.47 659.29,453.48 660.95,459.98 660.95,460 662.62,464.17 664.29,473.35 665.96,485.03 667.63,490.86 669.8,495.04 670.96,505.05 671.8,518.39 673.13,530.07 674.3,546.75 675.47,563.44 676.47,576.78 677.64,591.8 678.47,605.15 679.31,609.98 679.31,610 680.14,620.01 681.81,631.69 683.48,641.7 685.15,631.69 686.48,620.01 687.65,616.67 688.98,626.68 690.15,640.03 691.48,651.71 692.65,663.39 693.82,650.04 695.16,640.03 696.82,638.36 698.49,646.7 699.83,661.72 701.49,674.23 703.16,666.72 704.83,658.38 706.83,647.54 708.84,648.37 710.5,650.04 712.17,643.37 713.84,630.02 715.18,618.34 716.01,610 716.01,609.98 717.34,603.48 718.85,596.8 720.18,576.78 721.35,553.43 722.18,535.08 723.02,520.06 724.35,501.71 726.02,495.04 727.69,495.87 729.36,498.37 730.19,490.03 731.02,476.68 731.86,460 732.19,459.98 733.53,443.47 734.69,430.12 736.36,420.11 737.7,431.79 738.87,436.79 740.2,433.46 741.37,423.45 742.37,411.77 743.2,396.75 744.04,383.41 745.21,376.73 747.71,374.23 748.54,365.06 749.21,343.37 749.88,326.68 750.71,315.01 751.54,310 751.54,309.98 752.71,300.14 754.38,292.63 756.05,295.14 757.72,298.47 759.39,301.81 760.55,290.13 761.89,276.78 763.22,258.43 764.89,246.75 766.56,243.42 767.73,253.43 768.9,266.77 770.23,276.78 771.9,285.13 773.23,276.78 774.07,260.1 774.9,243.42 775.74,230.07 776.57,226.73 777.74,235.08 778.91,243.42 780.24,253.43 781.41,263.44 782.74,276.78 784.41,286.79 786.08,291.8 787.75,298.47 788.92,303.48 789.92,285.13 791.08,275.12 792.25,276.78 793.25,290.13 794.42,309.98 794.75,310 795.59,326.68 796.42,350.04 797.26,373.4 798.26,393.42 799.09,410.1 799.93,426.78 800.76,441.8 801.93,456.81 802.76,459.98 802.76,460 803.26,466.67 804.93,473.35 807.43,471.68 808.94,478.35 810.27,485.03 812.27,491.7 814.44,494.2 816.11,493.37 816.94,485.03 818.11,471.68 818.95,460 819.95,456.81 821.11,460 821.95,470.01 822.78,480.02 823.62,491.7 824.45,510.05 825.29,526.73 826.12,543.42 826.95,560.1 827.79,576.78 828.96,591.8 829.96,605.15 830.62,609.98 830.62,610 831.12,621.68 832.29,636.69 833.63,656.71 834.96,676.73 836.13,686.74 837.8,680.07 839.47,683.41 841.63,691.75 842.8,683.41 844.47,673.4 846.14,665.06 848.31,659.22 850.31,656.71 851.64,668.39 852.81,680.07 854.15,691.75 855.32,703.43 856.65,710.1 857.82,693.42 858.99,668.39 859.99,643.37 860,640.03 861.67,628.35 863.34,631.69 866.34,640.03 867.01,626.68 868.01,610 868.01,609.98 868.01,590.13 868.68,573.45 869.34,556.76 870.01,535.08 870.68,518.39 871.18,501.71 871.68,481.69 872.51,468.34 873.35,460 873.35,459.98 874.68,453.48 876.18,455.15 876.68,460 877.52,468.34 878.69,476.68 879.69,468.34 880.52,460 880.85,452.64 884.19,451.81 885.36,446.8 886.69,440.13 888.03,433.46 889.7,428.45 891.36,421.78 892.53,410.1 893.37,398.42 894.2,385.08 895.04,373.4 895.87,360.05 896.7,346.7 897.54,335.03 898.71,325.02 900.04,315.01 901.21,310 901.37,309.98 903.04,298.47 905.05,288.46 907.55,280.12 909.55,273.45 910.55,253.43 911.38,231.74 912.22,213.39 913.39,200.87 915.39,202.54 917.22,206.71 918.73,215.06 920.39,223.4 922.06,230.07 923.73,228.4 925.4,226.73 926.23,243.42 927.07,263.44 928.07,276.78 928.9,286.79 929.74,283.46 930.57,263.44 931.74,251.76 933.07,246.75 934.24,243.42 935.08,253.43 936.24,270.11 937.08,286.79 938.08,309.98 938.08,310 938.41,326.68 938.91,351.71 939.58,376.73 940.41,403.43 941.25,420.11 942.58,426.78 944.25,433.46 945.92,440.13 947.09,448.47 947.92,459.98 948.42,463.34 950.09,481.69 951.76,478.35 953.43,470.01 954.76,462.5 956.43,463.34 957.6,478.35 958.43,493.37 959.6,503.38 960.93,510.05 962.6,516.72 964.77,519.23 965.61,530.07 966.27,546.75 967.11,568.44 968.11,593.47 968.78,609.98 968.78,610 969.78,631.69 970.94,651.71 972.61,663.39 974.28,668.39 975.95,658.38 977.62,646.7 979.29,651.71 980.95,655.05 982.62,665.06 984.29,678.4 985.46,668.39 986.46,646.7 987.63,630.02 989.3,623.35 990.96,626.68 992.63,633.36 994.3,636.69 995.97,635.03 997.64,626.68 999.31,617.51 1000.47,613.34 1001.81,618.34 1003.48,626.68 1004.81,638.36 1006.48,650.04 1007.65,640.03 1008.82,623.35 1009.65,610 1009.65,609.98 1010.15,590.13 1010.98,570.11 1011.82,553.43 1012.65,543.42 1014.32,543.42 1015.49,541.75 1015.99,526.73 1016.82,506.71 1017.49,486.69 1018.49,470.01 1019.33,460 1019.66,456.81 1020.49,443.47 1021.33,434.29 1022.33,443.47 1023.5,450.14 1024.66,451.81 1025.67,443.47 1026.83,430.12 1028,418.44 1029,405.1 1030.17,393.42 1031.34,380.07 1032.34,368.39 1033.51,353.38 1034.34,336.69 1035.18,320.01 1035.84,310 1036.01,309.98 1037.18,286.79 1038.18,260.1 1039.35,243.42 1040.68,236.74 1042.68,238.41 1044.35,233.41 1045.52,226.73 1046.52,224.23 1047.69,231.74 1048.86,246.75 1050.19,260.1 1051.52,271.78 1052.69,276.78 1053.86,270.11 1055.2,256.76 1056.86,245.09 1058.53,240.08 1061.03,236.74 1063.2,235.91 1064.37,243.42 1065.54,253.43 1066.87,266.77 1068.21,280.12 1069.38,290.13 1070.54,296.8 1071.54,298.47 1072.71,283.46 1073.88,266.77 1074.71,263.44 1075.55,280.12 1076.38,300.14 1076.88,309.98 1076.88,310 1077.22,326.68 1077.88,343.37 1078.72,360.05 1079.72,376.73 1081.05,390.08 1082.22,403.43 1083.22,416.77 1084.39,430.12 1085.56,443.47 1086.89,451.81 1088.56,456.81 1090.23,459.98 1091.06,461.67 1092.73,462.5 1093.57,470.01 1094.4,480.02 1095.57,486.69 1096.9,485.03 1098.57,485.86 1099.41,496.7 1100.24,513.39 1101.41,530.07 1102.41,550.09 1103.24,576.78 1104.08,603.48 1104.74,609.98 1104.74,610 1105.58,626.68 1106.91,640.03 1108.25,651.71 1109.42,666.72 1110.58,690.08 1111.58,710.1 1112.42,693.42 1113.59,673.4 1114.75,660.05 1116.09,658.38 1117.76,660.05 1118.59,673.4 1119.76,690.08 1120.76,703.43 1121.93,708.43 1123.26,700.09 1124.43,690.08 1125.27,673.4 1126.43,658.38 1127.43,650.04 1128.6,660.05 1129.94,670.06 1131.44,678.4 1132.77,686.74 1133.94,690.08 1135.28,676.73 1136.61,660.05 1137.78,640.03 1138.95,623.35 1139.95,615.01 1141.11,635.03 1141.95,653.38 1143.28,655.05 1144.95,646.7 1145.79,631.69 1146.62,610 1146.62,609.98 1146.95,590.13 1147.62,566.77 1148.12,543.42 1148.62,518.39 1149.12,501.71 1149.62,481.69 1150.29,468.34 1151.12,460 1151.12,451.81 1151.96,441.8 1152.79,451.81 1153.63,459.98 1153.96,463.34 1154.96,471.68 1155.8,465.01 1156.13,451.81 1157.3,440.13 1158.63,433.46 1160.3,430.12 1161.97,429.29 1163.64,431.79 1164.3,418.44 1164.97,401.76 1165.64,385.08 1166.31,366.72 1166.97,351.71 1167.64,335.03 1168.48,320.01 1169.14,310 1169.14,309.98 1169.98,300.14 1171.14,291.8 1172.48,285.13 1173.98,283.46 1176.15,285.13 1177.82,280.12 1179.49,273.45 1180,268.44 1181.33,253.43 1182.5,243.42 1183.67,242.58 1185.01,250.09 1186.34,256.76 1188.01,261.77 1189.18,260.1 1190.34,250.09 1191.68,240.08 1193.35,235.08 1195.02,233.41 1195.85,238.41 1196.68,246.75 1197.52,256.76 1198.69,266.77 1200.02,270.11 1201.35,263.44 1202.52,256.76 1203.36,263.44 1204.19,276.78 1205.36,290.13 1206.69,300.14 1208.03,306.81 1209.2,305.15 1210.36,301.81 1211.36,306.81 1212.03,309.98 1212.03,310 1212.53,323.35 1213.37,343.37 1214.2,363.39 1215.04,380.07 1215.87,396.75 1216.7,416.77 1217.54,430.12 1219.21,436.79 1220.87,443.47 1222.04,455.15 1222.54,459.98 1223.38,466.67 1224.21,476.68 1225.38,485.03 1226.38,486.69 1227.21,476.68 1228.05,466.67 1229.22,463.34 1230.05,471.68 1230.88,481.69 1231.72,493.37 1232.55,508.38 1233.39,520.06 1234.55,533.41 1235.56,546.75 1236.39,560.1 1237.22,576.78 1238.06,590.13 1238.89,603.48 1239.23,609.98 1239.23,610 1239.73,615.01 1241.39,618.34 1242.56,626.68 1243.4,640.03 1244.23,651.71 1245.4,660.05 1246.4,665.06 1247.57,656.71 1248.74,646.7 1249.74,638.36 1250.9,630.02 1252.07,631.69 1253.07,640.03 1254.24,650.04 1255.41,655.05 1256.74,646.7 1258.08,636.69 1259.25,628.35 1260.41,625.02 1261.75,628.35 1262.92,636.69 1263.92,643.37 1265.09,651.71 1266.42,657.55 1267.59,651.71 1268.76,646.7 1270.09,643.37 1271.26,636.69 1272.26,630.02 1273.43,628.35 1274.59,635.03 1275.6,641.7 1276.76,646.7 1278.43,648.37 1279.77,650.04 1280.6,626.68 1281.43,615.01 1281.77,610 1281.77,609.98 1282.1,593.47 1282.94,576.78 1283.44,560.1 1284.1,543.42 1284.77,526.73 1285.61,510.05 1286.77,496.7 1287.94,486.69 1288.94,476.68 1290.11,468.34 1290.94,460 1290.94,459.98 1292.11,446.8 1293.45,440.13 1294.78,436.79 1296.28,436.79 1297.62,443.47 1298.79,448.47 1300.12,433.46 1300.95,418.44 1301.62,403.43 1302.29,385.08 1302.79,368.39 1303.46,351.71 1304.29,335.03 1305.13,320.01 1305.96,310 1305.96,309.98 1306.79,298.47 1308.46,291.8 1309.8,276.78 1310.96,253.43 1312.13,231.74 1313.13,226.73 1314.3,223.4 1315.47,233.41 1316.47,246.75 1317.64,260.1 1318.81,270.11 1319.81,260.1 1320.97,246.75 1322.14,238.41 1323.48,238.41 1325.15,241.75 1326.81,243.42 1328.48,242.58 1330.15,241.75 1332.15,240.08 1334.32,240.91 1335.99,239.25 1337.66,237.58 1338.83,243.42 1340.16,253.43 1341.33,260.1 1342.66,266.77 1344,273.45 1344.83,286.79 1345.5,301.81 1346,309.98 1346,310 1346.5,321.68 1347.33,331.69 1348.17,341.7 1349.34,350.04 1350.17,360.05 1351.17,373.4 1352.01,386.74 1352.84,400.09 1353.84,410.1 1354.67,420.11 1355.51,430.12 1356.51,440.13 1357.68,448.47 1358.85,455.15 1359.85,459.98 1361.01,461.67 1362.18,460.83 1363.18,455.15 1364.35,451.81 1365.52,448.47 1366.85,446.8 1368.19,451.81 1369.02,459.98 1369.69,466.67 1370.52,481.69 1371.86,490.03 1373.03,485.03 1374.03,480.02 1375.2,475.02 1376.36,480.02 1377.36,488.36 1378.2,500.04 1379.03,515.06 1379.7,526.73 1380.2,540.08 1380.7,553.43 1381.2,566.77 1381.53,580.12 1382.2,593.47 1382.7,603.48 1383.2,609.98 1383.2,610 1383.87,626.68 1384.7,643.37 1385.54,650.04 1386.54,640.03 1387.71,631.69 1389.38,623.35 1391.04,620.01 1392.21,630.02 1393.05,646.7 1393.88,663.39 1394.71,676.73 1396.05,678.4 1397.38,680.07 1398.22,660.05 1399.39,643.37 1400.55,636.69 1401.55,640.03 1402.72,646.7 1403.56,660.05 1404.39,676.73 1405.23,693.42 1406.06,705.1 1407.23,713.44 1408.56,718.44 1409.73,721.78 1410.56,706.76 1411.56,693.42 1412.4,680.07 1413.23,666.72 1414.07,653.38 1415.24,640.03 1416.9,635.03 1418.57,631.69 1420.24,628.35 1421.57,625.02 1422.74,620.01 1423.91,615.01 1424.91,610 1424.91,609.98 1425.58,593.47 1426.41,576.78 1427.25,560.1 1428.08,546.75 1429.42,543.42 1430.75,541.75 1431.42,530.07 1431.92,516.72 1432.42,503.38 1433.09,490.03 1433.59,476.68 1434.42,465.01 1434.42,459.98 1434.75,446.8 1435.76,435.13 1436.92,430.12 1438.26,433.46 1439.43,436.79 1440.59,443.47 1441.93,446.8 1443.26,456.81 1444.43,459.98 1445.27,463.34 1446.93,461.67 1447.77,453.48 1449.44,446.8 1450.6,451.81 1451.94,459.98 1452.77,463.34 1453.94,461.67 1454.44,451.81 1455.61,440.13 1456.44,426.78 1456.94,410.1 1457.44,393.42 1457.78,376.73 1458.11,360.05 1458.61,343.37 1459.28,326.68 1459.95,315.01 1460.78,310 1460.78,309.98 1461.11,293.47 1462.28,281.79 1463.62,276.78 1464.78,270.11 1465.62,253.43 1466.62,233.41 1467.45,216.72 1468.29,209.22 1469.46,216.72 1470.62,225.07 1471.96,230.07 1473.29,235.08 1474.79,238.41 1476.13,231.74 1477.46,223.4 1478.97,220.06 1480.63,218.39 1482.3,215.06 1483.64,208.38 1484.8,205.88 1485.81,215.06 1486.64,223.4 1487.47,233.41 1488.64,243.42 1489.48,256.76 1490.31,266.77 1491.48,263.44 1492.81,256.76 1493.98,253.43 1494.98,266.77 1496.15,283.46 1497.48,290.13 1498.99,288.46 1499.99,286.79 1500,280.12 1501,273.45 1502,266.77 1502.84,268.44 1503.67,280.12 1504.34,296.8 1505.01,309.98 1505.01,310 1505.34,335.03 1506.01,360.05 1506.67,385.08 1507.17,410.1 1507.67,426.78 1508.01,443.47 1508.34,459.98 1508.34,460 1508.84,470.01 1509.51,480.02 1510.34,490.03 1511.34,496.7 1512.51,493.37 1513.35,485.03 1514.18,476.68 1515.02,475.02 1515.85,481.69 1516.68,488.36 1518.02,491.7 1519.69,490.86 1521.35,490.03 1523.02,488.36 1524.19,490.03 1524.69,498.37 1525.36,510.05 1526.03,523.4 1526.69,535.08 1527.36,550.09 1527.86,563.44 1528.36,576.78 1529.03,590.13 1529.7,603.48 1530.2,609.98 1530.2,610 1530.86,626.68 1531.7,640.03 1532.53,653.38 1533.37,666.72 1534.2,680.07 1535.04,693.42 1535.87,703.43 1536.7,710.1 1538.04,715.11 1539.54,720.11 1540.54,725.12 1541.37,710.1 1542.21,696.75 1543.04,685.08 1543.88,676.73 1545.05,680.07 1546.21,688.41 1547.21,693.42 1548.05,676.73 1548.72,660.05 1549.55,648.37 1550.55,646.7 1551.72,650.04 1552.89,655.05 1553.72,663.39 1554.72,673.4 1555.56,685.08 1556.39,696.75 1557.22,700.09 1558.06,688.41 1559.23,675.07 1560.39,665.06 1561.73,656.71 1563.06,650.04 1564.23,641.7 1565.07,635.03 1565.9,626.68 1566.73,620.01 1567.57,613.34 1568.4,610 1568.4,609.98 1568.9,593.47 1569.74,580.12 1570.9,570.11 1572.07,575.12 1573.41,578.45 1574.57,573.45 1575.41,560.1 1576.24,546.75 1576.74,533.41 1577.41,520.06 1577.91,506.71 1578.41,493.37 1578.91,481.69 1579.75,471.68 1580.91,466.67 1582.08,463.34 1583.42,461.67 1583.42,458.48 1585.09,455.15 1587.59,448.47 1589.26,443.47 1590.59,436.79 1591.76,426.78 1592.76,416.77 1593.76,406.76 1594.59,396.75 1595.43,383.41 1596.26,370.06 1596.76,356.71 1597.43,343.37 1597.93,330.02 1598.43,318.34 1598.93,310 1598.93,309.98 1600.1,298.47 1601.43,290.13 1602.6,281.79 1603.77,273.45 1604.77,263.44 1605.94,250.09 1607.11,233.41 1608.11,221.73 1609.28,216.72 1610.44,213.39 1611.44,211.72 1612.28,220.06 1613.11,233.41 1614.28,245.09 1615.45,240.08 1616.78,228.4 1617.95,221.73 1619.29,218.39 1620.45,216.72 1621.45,226.73 1622.62,238.41 1623.79,248.42 1625.13,251.76 1626.79,250.92 1628.8,249.26 1630.96,246.75 1632.97,245.92 1634.3,245.09 1635.47,251.76 1636.47,260.1 1637.64,268.44 1638.81,276.78 1640.14,288.46 1641.31,300.14 1642.31,308.48 1643.14,309.98 1643.14,320.01 1643.98,316.67 1644.81,301.81 1645.65,298.47 1646.31,309.98 1646.48,310 1646.81,323.35 1647.31,343.37 1647.65,360.05 1648.15,376.73 1648.48,393.42 1648.98,410.1 1649.65,423.45 1650.65,433.46 1651.82,441.8 1652.99,445.14 1654.32,440.13 1655.49,436.79 1656.32,443.47 1657.16,451.81 1657.66,459.98 1657.99,463.34 1659.33,470.01 1660.99,476.68 1662.66,473.35 1665.17,470.01 1667.67,467.51 1668.5,473.35 1669.34,483.36 1670.17,493.37 1671,505.05 1671.84,516.72 1673.01,526.73 1674.34,533.41 1675.51,541.75 1676.51,546.75 1677.34,556.76 1678.18,566.77 1678.85,576.78 1679.35,586.79 1680.18,598.47 1680.85,609.98 1680.85,610 1681.35,626.68 1682.18,643.37 1683.02,660.05 1683.85,665.06 1684.68,655.05 1685.69,646.7 1686.85,643.37 1688.52,643.37 1689.69,646.7 1690.19,660.05 1691.02,676.73 1691.86,690.08 1692.69,698.42 1693.86,693.42 1694.86,685.08 1696.03,676.73 1696.86,668.39 1698.03,661.72 1699.03,665.06 1699.87,671.73 1700.7,678.4 1701.87,685.08 1703.04,691.75 1704.04,696.75 1705.21,690.08 1706.37,680.07 1707.37,670.06 1708.21,656.71 1709.04,645.04 1709.88,635.03 1710.71,633.36 1711.54,641.7 1712.38,653.38 1713.21,661.72 1714.38,665.06 1715.55,668.39 1716.88,671.73 1717.72,661.72 1718.55,651.71 1719.39,641.7 1720.22,631.69 1721.05,625.02 1722.39,625.85 1723.56,628.35 1724.72,626.68 1726.06,623.35 1727.23,618.34 1728.56,613.34 1729.4,610 1729.73,609.98 1730.23,593.47 1731.06,576.78 1731.9,560.1 1732.57,543.42 1733.23,526.73 1734.07,510.05 1734.9,496.7 1735.74,485.03 1736.57,473.35 1737.57,463.34 1738.57,460 1738.57,459.98 1740.24,443.47 1741.91,429.29 1743.58,431.79 1745.25,430.12 1746.91,426.78 1747.75,421.78 1748.25,410.1 1748.75,396.75 1749.25,383.41 1749.75,366.72 1750.25,350.04 1750.92,333.36 1751.58,321.68 1752.42,313.34 1752.92,310 1752.92,309.98 1753.59,296.8 1755.26,295.14 1756.92,303.48 1758.59,306.81 1759.93,301.81 1761.09,290.13 1762.26,276.78 1763.26,266.77 1764.43,253.43 1765.27,238.41 1766.43,223.4 1767.43,216.72 1768.27,223.4 1769.44,230.07 1770.6,236.74 1771.94,241.75 1773.61,245.09 1775.28,246.75 1776.94,250.09 1778.28,255.1 1779.78,257.6 1781.11,251.76 1782.45,248.42 1784.12,243.42 1785.62,240.08 1786.62,230.07 1787.45,218.39 1788.62,210.05 1789.96,205.05 1791.46,201.71 1792.79,205.05 1794.13,210.05 1795.3,215.06 1796.46,220.06 1797.46,226.73 1798.63,235.08 1799.8,246.75 1800.8,256.76 1801.63,265.11 1802.8,256.76 1803.97,248.42 1804.8,245.09 1805.64,260.1 1806.47,273.45 1807.31,286.79 1808.14,303.48 1808.64,309.98 1808.64,310 1808.81,326.68 1808.98,343.37 1809.14,360.05 1809.31,376.73 1809.64,393.42 1809.98,410.1 1810.64,421.78 1811.64,426.78 1812.81,430.12 1813.98,433.46 1815.32,438.46 1816.48,443.47 1817.48,450.14 1818.32,456.81 1818.99,459.98 1818.99,460 1818.99,470 1819.5,478 1820.5,495 1821.5,510 1822.5,520 1823.5,535 1824.5,548 1825.5,560 1826.5,572 1827.5,585 1828.5,600 1829.4,612 1830.1,620 1830.4,634.5 1831.6,646 1832.5,654.7 1833.6,663.4 1834.5,672 1835.4,680 1836.5,686 1837.4,692 1838.5,697.8 1839.4,692 1840.6,686 1841.6,679 1842.6,671 1843.5,658 1843.7,642 1844.6,634.5 1845.5,629.8 1846.3,625.2 1847.5,622.3 1848.7,630.4 1849.5,636.2 1850.4,643 1851.5,651 1852.4,659.3 1853.6,666.3 1854.4,669.2 1855.3,667.4 1856.2,664 1857.3,659.3 1857.6,662.8 1858.5,669.2 1859.6,675 1860.5,681.6 1861.6,674" fill="none" stroke="#008000" stroke-width="1"/><polyline points="221.17,298.39 224.34,292.56 225.34,275.04 227.26,254.19 228.34,268.37 228.93,299.98 230.34,336.69 232.26,299.98 232.68,282.55 233.51,269.2 236.02,263.37 237.27,270.04 238.1,283.38 239.77,299.98 239.77,310 240.85,338.36 242.02,363.39 243.36,395.09 244.36,436.79 245.03,459.98 245.03,460 245.03,476.68 245.86,500.87 248.03,504.21 249.2,515.06 250.03,533.41 251.2,553.43 252.2,575.12 253.03,598.47 253.7,609.98 253.7,610 253.87,631.69 254.7,650.04 257.54,636.69 260.04,644.2 263.38,625.85 265.05,640.03 266.71,661.72 268.38,681.74 269.72,690.08 272.05,676.73 274.22,666.72 275.89,635.03 277.22,613.34 278.39,616.67 280.06,631.69 281.73,645.04 283.73,658.38 286.73,650.87 289.74,654.21 292.57,660.05 294.24,643.37 295.91,625.02 297.08,610 297.58,609.98 298.41,598.47 299.58,583.46 300.41,566.77 301.75,540.08 302.92,506.71 303.92,473.35 304.42,460 304.42,459.98 305.92,440.13 307.09,420.11 308.42,403.43 309.76,383.41 310.92,365.06 311.76,348.37 312.76,331.69 313.76,315.01 314.26,310 316.08,299.98 317.33,281.71 318.59,266.7 319.84,260.03 321.92,256.69 325.26,255.03 328.59,256.69 330.26,262.53 331.51,271.71 332.76,281.71 334.02,291.72 335.27,299.98 336.93,298.39 338.6,285.05 339.85,271.71 341.1,252.52 342.36,262.53 343.19,280.05 344.02,299.98 346.79,310 348.13,325.02 349.8,340.03 352.63,350.87 354.3,340.03 355.97,330.02 357.64,335.03 359.31,345.87 360.97,331.69 362.64,320.01 365.15,310 365.48,309.98 367.15,303.48 368.98,308.48 370.15,309.98 370.98,310 372.65,315.01 374.32,326.68 375.49,348.37 376.82,368.39 378.16,393.42 379.33,416.77 380.16,436.79 380.99,459.98 380.99,460 381.83,476.68 383.16,493.37 384.33,518.39 386,531.74 387.67,550.09 389.34,566.77 390.17,580.12 391.84,598.47 393.17,609.98 393.17,610 394.34,623.35 396.84,635.03 399.35,646.7 401.85,661.72 403.52,670.06 404.68,643.37 405.52,610 405.52,609.98 406.85,591.8 409.36,577.62 411.02,591.8 413.53,608.48 416.03,606.81 418.53,602.64 420.2,609.98 421.03,610 422.7,626.68 424.37,651.71 426.04,676.73 427.71,698.42 428.54,710.1 429.38,676.73 430.54,646.7 431.88,625.02 433.55,618.34 435.22,643.37 436.38,668.39 437.72,683.41 438.89,668.39 440.22,651.71 441.89,631.69 443.22,610 443.22,609.98 444.39,600.14 446.56,598.47 447.73,609.98 448.23,610 449.4,626.68 450.23,610 450.23,609.98 450.73,576.78 451.56,550.09 452.4,518.39 453.23,490.03 454.07,460 454.07,459.98 455.24,451.81 456.57,459.98 456.9,460 458.24,476.68 460.24,487.53 461.91,476.68 463.58,460 463.58,459.98 464.41,426.78 465.25,400.09 466.58,376.73 467.41,355.05 468.58,335.03 469.75,316.67 470.75,310 470.75,309.98 471.92,298.47 473.59,283.46 475.26,260.1 476.45,234.98 476.45,230.06 477.36,229.22 477.36,204.2 478.37,203.37 478.37,191.28 479.2,200.03 479.62,214.21 480.62,214.21 480.62,229.22 481.28,229.22 481.28,234.98 481.59,236.74 483.93,255.93 486.93,248.42 490.27,241.75 490.46,234.98 490.71,233.39 491.54,232.56 491.54,219.22 492.38,218.38 492.38,204.2 493.38,203.37 493.38,195.86 494.21,202.54 494.63,213.38 495.46,214.21 495.63,225.05 496.71,225.05 496.71,234.98 498.28,256.76 499.95,273.45 501.61,293.47 502.28,309.98 502.28,310 502.45,323.35 502.78,310 503.28,309.98 504.45,268.44 505.62,258.43 508.62,250.92 510.29,260.1 511.96,275.12 513.63,276.78 514.96,273.45 516.13,283.46 516.96,301.81 517.8,309.98 517.8,310 518.13,335.03 518.97,358.38 519.63,400.09 520.3,426.78 521.13,443.47 521.63,459.98 521.63,460 522.3,470.01 523.3,485.03 524.47,498.37 527.31,495.87 528.31,508.38 528.98,530.07 529.98,555.1 531.14,573.45 532.31,591.8 533.31,606.81 533.98,609.98 533.98,610 533.98,623.35 534.98,640.03 536.15,660.05 537.82,651.71 539.49,636.69 540,640.03 541.67,651.71 544.17,640.03 547.01,626.68 548.34,640.03 550.34,666.72 553.35,672.56 555.85,668.39 558.02,658.38 559.52,649.21 560.85,660.05 562.52,679.24 565.03,675.9 566.36,660.05 567.53,643.37 569.2,631.69 571.7,625.02 574.2,618.34 575.87,630.02 577.54,640.03 580.04,636.69 580.87,620.01 581.71,610 581.71,609.98 582.54,598.47 583.38,570.11 584.71,553.43 585.88,543.42 587.21,523.4 588.38,501.71 589.55,480.02 590.55,466.67 590.88,459.98 592.05,446.8 593.39,448.47 595.89,459.98 596.39,461.67 596.72,456.81 597.56,443.47 598.73,433.46 600.06,420.11 601.73,413.44 603.4,410.1 605.07,406.76 606.4,393.42 607.23,380.07 608.07,366.72 608.74,351.71 609.24,335.03 610.07,320.01 610.57,310 610.57,309.98 611.4,290.13 612.57,283.46 614.74,276.78 617.08,283.46 618.41,266.77 619.58,246.75 620.58,238.41 622.08,255.1 623.42,270.11 625.42,263.44 627.59,255.1 629.26,243.42 630.92,223.4 632.59,210.05 634.26,226.73 635.93,241.75 637.6,253.43 639.27,260.1 640.6,273.45 641.77,290.13 643.1,305.15 643.77,315.01 645.11,310.83 646.77,313.34 648.78,318.34 649.78,310 650.94,303.48 652.61,291.8 653.45,309.98 653.45,310 653.95,326.68 654.78,351.71 655.62,376.73 656.45,403.43 657.28,430.12 658.45,446.8 660.12,455.15 662.62,458.48 663.46,460 664.29,463.34 665.13,476.68 666.46,490.03 668.13,501.71 670.13,505.88 671.3,515.06 672.63,530.07 673.97,546.75 675.14,563.44 676.47,580.12 677.64,591.8 678.97,605.15 679.81,609.98 680.14,611.67 681.47,616.67 682.64,626.68 683.81,630.02 684.81,615.01 685.48,609.98 686.48,597.64 687.81,605.15 688.82,609.98 689.32,613.34 690.15,626.68 690.98,643.37 692.15,657.55 693.15,650.04 694.32,638.36 695.49,634.19 697.66,638.36 699.33,648.37 700.49,661.72 701.83,670.06 703.5,663.39 705.17,655.05 707.33,645.04 709.34,649.21 711,651.71 712.67,645.04 714.34,633.36 715.51,620.01 716.84,610 717.18,609.98 718.51,605.15 720.18,598.47 721.51,580.12 722.18,560.1 722.68,543.42 723.52,526.73 724.35,515.06 725.52,506.71 726.85,508.38 728.52,513.39 730.19,516.72 731.02,503.38 731.52,485.03 732.36,470.01 733.19,460 733.19,459.98 734.36,441.8 735.53,430.12 736.86,423.45 738.03,436.79 739.37,453.48 740.2,446.8 741.03,435.13 742.2,423.45 743.2,410.1 743.87,393.42 744.87,376.73 746.87,374.23 748.54,373.4 749.04,360.05 749.71,343.37 750.54,326.68 751.54,315.01 752.21,310 752.21,309.98 753.88,300.14 755.55,303.48 757.22,306.81 758.55,309.98 759.39,312 760.22,309.98 761.55,291.8 762.72,280.12 764.39,268.44 766.56,263.44 767.73,273.45 769.4,283.46 771.06,293.47 773.23,298.47 774.07,280.12 774.9,263.44 775.74,248.42 776.9,240.08 778.57,246.75 779.91,260.1 780.74,273.45 781.57,286.79 782.41,298.47 783.58,309.98 783.58,310 784.41,326.68 785.25,343.37 785.58,360.05 786.58,343.37 787.75,330.02 788.92,318.34 789.75,310 789.75,309.98 790.58,293.47 791.42,283.46 792.42,293.47 793.59,301.81 794.75,309.98 794.75,310 795.26,318.34 796.09,335.03 796.92,356.71 797.76,373.4 798.59,393.42 799.43,410.1 800.26,426.78 801.09,441.8 802.26,456.81 803.26,459.98 803.26,460 803.93,470.01 805.27,475.02 807.77,471.68 808.94,480.02 810.27,486.69 811.94,493.37 813.61,500.04 816.11,500.04 816.94,490.03 818.28,476.68 819.45,465.01 820.28,460 820.78,458.98 821.61,461.67 822.28,470.01 823.28,480.02 824.12,493.37 824.95,510.05 825.79,526.73 826.62,543.42 827.45,560.1 828.29,576.78 829.46,591.8 830.62,605.15 831.12,609.98 831.12,610 831.96,625.02 833.29,626.68 835.3,620.84 836.46,633.36 837.8,653.38 838.97,665.06 840.3,673.4 841.63,679.24 843.3,668.39 844.97,658.38 846.97,650.87 849.98,646.7 851.14,656.71 852.31,666.72 853.65,676.73 854.98,688.41 856.15,696.75 857.32,700.92 858.32,676.73 859.15,636.69 859.99,624.18 860,624.18 861.67,626.68 863.67,631.69 866.34,640.86 867.51,620.01 868.34,610 868.34,609.98 868.68,593.47 869.34,576.78 870.01,560.1 870.51,543.42 871.01,526.73 871.68,506.71 872.18,485.03 873.01,468.34 874.18,456.81 875.35,446.8 876.18,459.98 876.68,461.67 877.52,481.69 878.35,502.54 879.19,493.37 880.35,476.68 881.35,465.01 883.36,467.51 885.03,461.67 885.36,459.98 886.69,446.8 888.36,438.46 890.03,433.46 891.7,423.45 892.87,413.44 893.87,400.09 894.7,385.08 895.37,373.4 896.2,360.05 897.04,346.7 898.04,336.69 899.21,326.68 900.87,316.67 902.04,310 902.04,309.98 903.71,303.48 905.88,295.14 908.38,290.13 910.38,286.79 911.22,268.44 912.05,246.75 912.89,226.73 913.72,218.39 915.89,219.23 917.56,223.4 919.23,230.07 920.89,236.74 922.56,240.08 924.23,236.74 925.4,233.41 926.4,253.43 927.23,276.78 928.4,293.47 929.74,306.81 930.9,312.5 931.74,303.48 932.91,276.78 934.24,256.76 935.41,266.77 936.41,280.12 937.58,293.47 938.41,309.98 938.41,310 938.75,326.68 939.25,343.37 939.75,373.4 940.41,393.42 941.08,410.1 941.75,420.11 943.42,425.12 945.09,428.45 946.75,435.13 947.92,443.47 948.42,459.98 949.26,463.34 950.92,483.36 953.09,475.02 954.76,465.01 955.93,451.81 956.76,459.98 957.26,468.34 958.1,481.69 958.93,498.37 959.77,510.05 960.93,516.72 962.1,525.07 964.27,524.23 965.44,520.06 966.11,535.08 966.77,553.43 967.61,575.12 968.44,598.47 969.28,609.98 969.28,610 970.11,626.68 971.28,646.7 972.11,643.37 973.11,626.68 974.28,612.5 975.45,620.01 976.45,631.69 977.62,640.03 979.29,642.53 980.95,645.87 982.62,651.71 983.79,665.06 984.79,668.39 985.96,648.37 987.13,628.35 988.46,622.51 990.13,618.34 991.8,622.51 993.47,626.68 995.14,631.69 996.47,635.86 997.64,628.35 999.31,620.01 1000.47,616.67 1001.81,620.01 1003.48,626.68 1004.81,636.69 1006.31,645.04 1007.65,636.69 1008.82,623.35 1010.15,610 1010.15,609.98 1010.65,593.47 1011.32,573.45 1012.15,560.1 1013.49,559.27 1015.16,560.93 1015.66,550.09 1016.32,526.73 1017.16,506.71 1017.99,486.69 1018.99,470.01 1019.83,460 1020.16,456.81 1020.99,443.47 1021.83,438.46 1022.66,448.47 1023.5,456.81 1024,463.34 1024.83,458.48 1026,450.14 1026.83,438.46 1027.67,426.78 1028.84,413.44 1029.84,401.76 1031,390.08 1032.17,376.73 1033.17,365.06 1034.01,351.71 1034.84,335.03 1035.68,320.01 1036.51,310 1036.84,309.98 1037.68,286.79 1038.85,263.44 1040.51,255.93 1042.68,255.1 1044.35,248.42 1045.52,240.08 1046.52,238.41 1047.69,246.75 1048.86,260.1 1050.19,273.45 1051.52,283.46 1052.69,287.63 1053.86,280.12 1055.2,270.11 1056.86,260.1 1058.53,255.93 1061.03,252.59 1062.7,250.92 1063.87,253.43 1064.87,266.77 1065.71,286.79 1066.54,303.48 1066.87,326.68 1067.71,342.53 1068.54,330.02 1069.88,318.34 1071.04,310 1071.54,309.98 1072.38,290.13 1073.55,276.78 1074.38,270.11 1075.22,280.12 1076.05,296.8 1076.55,309.98 1076.55,310 1077.38,326.68 1078.22,343.37 1079.05,360.05 1080.22,376.73 1081.55,390.08 1082.72,403.43 1083.89,416.77 1084.89,430.12 1086.06,443.47 1087.73,451.81 1089.4,455.15 1091.9,454.31 1093.23,455.15 1093.57,459.98 1094.07,463.34 1094.9,475.02 1095.74,485.03 1096.57,490.03 1098.24,489.2 1099.41,487.53 1099.91,496.7 1100.57,513.39 1101.57,515.06 1102.24,530.07 1102.91,553.43 1103.74,576.78 1104.58,603.48 1105.25,609.98 1105.25,610 1106.08,621.68 1107.25,635.03 1108.58,643.37 1109.75,660.05 1110.75,673.4 1111.58,680.07 1112.42,660.05 1113.59,640.03 1114.75,623.35 1115.59,606.81 1116.42,615.01 1117.26,626.68 1118.09,640.03 1119.43,656.71 1120.59,676.73 1121.59,690.08 1123.26,686.74 1124.93,681.74 1125.77,660.05 1126.6,646.7 1127.43,640.03 1128.6,650.04 1129.94,661.72 1131.44,673.4 1132.77,680.07 1133.94,683.41 1135.28,673.4 1136.61,660.05 1137.78,643.37 1138.95,628.35 1139.95,621.68 1141.11,635.03 1141.95,648.37 1143.62,650.04 1145.29,643.37 1146.12,626.68 1146.95,610 1146.95,609.98 1147.45,590.13 1148.12,566.77 1148.62,543.42 1148.96,518.39 1149.46,501.71 1149.96,481.69 1150.62,468.34 1151.12,459.98 1151.62,443.47 1152.29,434.29 1153.29,445.14 1153.96,459.98 1154.46,463.34 1155.63,478.35 1156.63,466.67 1157.3,459.98 1158.3,443.47 1159.47,435.13 1161.13,430.95 1162.8,430.95 1164.47,433.46 1164.97,418.44 1165.64,401.76 1166.14,385.08 1166.64,366.72 1167.31,351.71 1168.14,335.03 1168.98,320.01 1169.98,310 1169.98,309.98 1170.64,301.81 1171.98,296.8 1173.65,293.47 1176.15,298.47 1177.82,291.8 1179.49,286.79 1180,285.13 1181.33,268.44 1182.5,258.43 1183.67,256.76 1185.01,263.44 1186.34,270.11 1188.01,275.12 1189.18,276.78 1190.34,266.77 1191.68,256.76 1193.35,250.09 1195.02,246.75 1195.85,245.09 1196.68,256.76 1197.52,266.77 1198.69,280.12 1199.69,285.96 1200.85,275.12 1201.69,266.77 1202.52,263.44 1203.36,276.78 1204.19,293.47 1204.69,309.98 1204.69,335.03 1205.36,349.21 1206.19,338.36 1207.19,325.02 1208.36,315.01 1209.2,310 1209.7,305.15 1210.86,298.47 1211.7,303.48 1212.53,309.98 1212.53,310 1213.03,326.68 1213.7,343.37 1214.53,360.05 1215.37,376.73 1216.2,396.75 1217.04,416.77 1218.04,426.78 1219.71,429.29 1220.87,438.46 1222.04,448.47 1223.04,459.98 1223.71,468.34 1224.71,476.68 1225.55,485.03 1226.38,492.53 1227.21,483.36 1228.05,473.35 1228.72,455.15 1229.72,465.01 1230.55,473.35 1231.38,486.69 1232.22,500.04 1233.05,513.39 1234.22,526.73 1235.06,540.08 1236.22,553.43 1237.06,566.77 1237.89,580.12 1238.73,593.47 1239.56,606.81 1240.39,610.83 1242.06,613.34 1243.73,611.67 1245.07,608.15 1246.23,615.01 1247.07,628.35 1247.9,641.7 1248.74,648.37 1249.24,640.03 1250.07,631.69 1251.24,624.18 1252.24,630.02 1253.41,640.03 1254.57,646.7 1255.91,645.87 1257.08,640.03 1258.41,631.69 1259.58,625.02 1260.58,620.84 1261.75,625.02 1262.92,630.02 1263.92,636.69 1265.09,645.04 1266.25,650.87 1267.59,648.37 1268.76,645.87 1270.09,640.03 1271.26,633.36 1272.26,626.68 1273.43,624.18 1274.59,631.69 1275.6,640.03 1276.76,645.87 1278.43,649.21 1279.77,650.04 1280.6,635.03 1281.43,620.01 1282.1,610 1282.1,609.98 1282.6,593.47 1283.44,576.78 1283.94,560.1 1284.6,543.42 1285.44,526.73 1286.27,510.05 1287.61,496.7 1288.78,486.69 1289.61,476.68 1290.61,468.34 1291.44,460 1291.44,459.98 1292.61,450.14 1293.78,441.8 1295.45,433.46 1296.78,443.47 1298.12,456.81 1299.29,446.8 1300.45,433.46 1301.29,418.44 1302.12,403.43 1302.62,385.08 1303.12,368.39 1303.79,351.71 1304.79,335.03 1305.63,320.01 1306.46,310 1306.46,309.98 1307.63,300.14 1309.3,296.8 1310.46,285.13 1311.3,268.44 1312.13,251.76 1312.97,238.41 1313.97,235.08 1315.14,246.75 1316.3,260.1 1317.3,273.45 1318.14,285.13 1319.31,295.14 1320.14,286.79 1320.97,266.77 1322.14,255.1 1323.48,256.76 1324.81,259.27 1326.31,261.77 1328.15,258.43 1330.15,255.1 1332.15,252.59 1333.82,250.92 1335.49,250.09 1335.99,260.1 1336.82,276.78 1337.66,293.47 1338.16,309.98 1338.49,320.84 1339.33,309.98 1340.16,286.79 1340.99,273.45 1341.83,270.11 1343.5,273.45 1344.33,283.46 1345.17,298.47 1346,309.98 1346.33,310 1347.17,320.01 1348,330.02 1348.84,340.03 1350.17,346.7 1351,356.71 1351.84,368.39 1352.67,383.41 1353.51,396.75 1354.34,406.76 1355.18,416.77 1356.01,426.78 1357.18,435.13 1358.18,443.47 1359.35,451.81 1360.51,458.48 1361.51,459.98 1362.18,462.5 1363.18,456.81 1364.35,450.14 1365.52,441.8 1366.52,438.46 1367.69,445.14 1368.86,451.81 1369.86,459.98 1370.19,466.67 1371.02,485.03 1372.36,497.54 1373.53,488.36 1374.36,481.69 1375.53,476.68 1376.53,481.69 1377.7,490.03 1378.53,500.04 1379.37,515.06 1379.87,526.73 1380.53,540.08 1381.03,553.43 1381.53,566.77 1381.87,580.12 1382.7,593.47 1383.2,603.48 1383.87,609.98 1383.87,610 1384.37,621.68 1385.21,635.03 1386.37,630.02 1387.71,623.35 1389.38,616.67 1391.04,610.83 1392.71,615.01 1394.05,620.01 1394.88,633.36 1395.72,650.04 1396.55,663.39 1397.38,656.71 1398.22,643.37 1399.39,635.03 1400.55,629.19 1401.55,635.03 1402.72,640.03 1403.56,651.71 1404.39,668.39 1405.23,683.41 1406.06,693.42 1407.23,703.43 1408.56,711.77 1409.73,716.77 1410.56,703.43 1411.56,690.08 1412.4,676.73 1413.23,663.39 1414.07,650.04 1415.24,640.03 1416.9,638.36 1418.57,636.69 1420.24,633.36 1421.57,628.35 1422.74,623.35 1423.91,618.34 1424.91,613.34 1425.58,610 1425.58,609.98 1426.08,596.8 1426.91,580.12 1427.75,566.77 1428.58,558.43 1430.25,555.93 1431.42,553.43 1431.92,540.08 1432.42,526.73 1433.09,510.05 1433.59,493.37 1434.09,476.68 1434.92,465.01 1434.92,459.98 1435.59,443.47 1436.59,430.12 1437.76,419.28 1438.59,426.78 1439.43,435.13 1440.26,443.47 1441.59,451.81 1442.76,459.98 1443.26,466.67 1444.43,473.35 1446.1,475.02 1447.43,468.34 1448.6,461.67 1450.27,465.01 1451.6,473.35 1452.44,476.68 1453.61,470.01 1454.94,461.67 1455.28,456.81 1456.11,443.47 1456.94,426.78 1457.44,410.1 1457.94,393.42 1458.28,376.73 1458.61,360.05 1459.11,343.37 1459.78,326.68 1460.61,315.01 1461.61,310 1461.61,309.98 1462.28,293.47 1463.28,283.46 1464.45,276.78 1465.62,270.11 1466.45,253.43 1467.29,236.74 1468.12,225.07 1468.96,223.4 1469.79,231.74 1471.12,238.41 1472.46,243.42 1473.96,246.75 1475.3,248.42 1476.63,240.08 1477.8,231.74 1479.13,226.73 1480.8,225.9 1482.3,221.73 1483.64,213.39 1484.8,210.05 1485.64,218.39 1486.47,230.07 1487.31,243.42 1488.14,253.43 1488.98,276.78 1489.81,298.47 1490.31,309.98 1490.64,323.35 1491.14,309.98 1491.98,293.47 1492.81,280.12 1493.65,276.78 1494.81,285.13 1496.15,291.8 1497.82,291.8 1499.49,288.46 1500,284.29 1500.83,275.12 1501.67,263.44 1502.5,256.76 1503.34,268.44 1504.17,288.46 1505.01,305.15 1505.51,309.98 1505.51,310 1505.84,335.03 1506.34,360.05 1507.01,385.08 1507.51,410.1 1508.01,426.78 1508.34,443.47 1508.68,459.98 1508.68,460 1509.18,470.01 1510.01,481.69 1510.84,493.37 1512.01,500.87 1513.01,486.69 1513.85,473.35 1514.68,466.67 1515.35,470.01 1516.18,478.35 1517.18,488.36 1518.35,494.2 1520.02,491.7 1521.69,489.2 1523.36,486.69 1524.52,485.03 1525.03,496.7 1525.53,510.05 1526.19,523.4 1526.69,535.08 1527.53,550.09 1528.03,563.44 1528.7,576.78 1529.36,590.13 1530.03,603.48 1530.53,609.98 1530.53,610 1531.2,623.35 1532.03,635.03 1532.87,648.37 1533.87,661.72 1534.7,673.4 1535.54,685.08 1536.37,695.09 1537.04,699.26 1537.87,683.41 1538.71,673.4 1539.71,665.06 1540.87,662.55 1542.21,665.06 1543.71,668.39 1545.05,673.4 1546.38,678.4 1547.55,681.74 1548.38,673.4 1548.88,660.05 1549.55,643.37 1550.05,633.36 1550.88,636.69 1551.72,641.7 1552.89,645.04 1553.72,653.38 1554.55,663.39 1555.39,675.07 1556.39,685.08 1557.22,690.08 1558.06,680.07 1559.23,670.06 1560.39,661.72 1561.73,653.38 1563.06,646.7 1564.23,641.7 1565.07,635.03 1565.9,628.35 1566.73,621.68 1567.9,615.01 1568.9,610 1568.9,609.98 1569.74,600.14 1570.57,591.8 1571.4,585.13 1572.57,590.13 1573.91,596.8 1574.57,586.79 1575.41,573.45 1576.24,560.1 1577.08,543.42 1577.74,526.73 1578.41,510.05 1578.91,496.7 1579.58,485.03 1580.58,476.68 1581.75,473.35 1582.92,470.01 1584.25,466.67 1585.42,463.34 1586.42,460 1586.75,459.98 1588.42,455.15 1590.09,448.47 1591.42,438.46 1592.59,426.78 1593.43,416.77 1594.26,406.76 1595.1,396.75 1595.93,383.41 1596.76,370.06 1597.26,356.71 1597.93,343.37 1598.43,330.02 1598.93,318.34 1599.6,310 1599.6,309.98 1600.93,301.81 1602.1,293.47 1603.44,285.13 1604.6,276.78 1605.61,266.77 1606.77,253.43 1607.94,240.08 1608.94,233.41 1610.11,230.07 1611.28,226.73 1612.28,233.41 1613.11,246.75 1613.95,256.76 1615.12,253.43 1616.28,240.08 1617.62,231.74 1618.79,228.4 1620.12,225.07 1621.29,233.41 1622.29,243.42 1623.46,253.43 1625.13,256.76 1626.29,260.1 1627.29,268.44 1628.46,280.12 1629.63,290.13 1630.63,296.8 1631.46,301.81 1632.3,290.13 1633.13,276.78 1633.97,263.44 1634.8,260.1 1635.97,265.11 1637.14,271.78 1638.14,280.12 1639.31,288.46 1640.47,298.47 1641.47,306.81 1642.14,309.98 1642.64,315.01 1643.48,320.01 1644.31,313.34 1644.81,310 1645.48,305.15 1646.31,301.81 1646.81,309.98 1646.81,310 1647.31,326.68 1647.81,343.37 1648.15,360.05 1648.48,376.73 1648.82,393.42 1649.32,410.1 1650.15,423.45 1650.98,433.46 1652.15,440.13 1653.49,430.12 1654.65,420.11 1655.49,418.44 1656.32,430.12 1657.16,443.47 1657.99,455.15 1658.49,459.98 1658.83,465.01 1659.83,470.01 1660.99,475.02 1662.66,470.01 1664.33,465.01 1666.83,462.5 1668.5,461.67 1669,470.01 1669.67,481.69 1670.5,493.37 1671.34,505.05 1672.17,516.72 1673.17,526.73 1674.34,533.41 1675.51,540.08 1676.84,546.75 1677.68,556.76 1678.51,566.77 1679.01,576.78 1679.68,586.79 1680.51,598.47 1681.35,609.98 1681.35,610 1681.85,623.35 1682.68,640.03 1683.52,656.71 1684.35,648.37 1685.19,638.36 1686.35,630.02 1687.69,631.69 1689.36,635.03 1691.02,637.53 1692.69,640.03 1693.53,648.37 1694.36,660.05 1695.2,670.06 1696.03,674.23 1696.86,663.39 1697.7,655.05 1698.53,650.04 1699.37,656.71 1700.2,665.06 1701.37,673.4 1702.37,680.07 1703.54,686.74 1704.7,690.91 1705.71,683.41 1706.87,673.4 1707.71,663.39 1708.54,650.04 1709.38,638.36 1710.21,628.35 1711.04,631.69 1711.88,640.03 1712.71,651.71 1713.55,658.38 1714.88,661.72 1716.38,664.22 1717.38,665.06 1718.22,655.05 1719.05,646.7 1719.89,638.36 1721.05,631.69 1722.22,628.35 1723.56,631.69 1724.72,633.36 1726.06,628.35 1727.23,623.35 1728.56,618.34 1729.73,613.34 1730.73,610 1730.73,609.98 1731.4,593.47 1731.9,576.78 1732.73,560.1 1733.23,543.42 1733.9,526.73 1734.73,510.05 1735.57,496.7 1736.4,485.03 1737.24,473.35 1738.24,463.34 1739.41,460 1739.41,459.98 1741.07,443.47 1742.74,435.13 1744.41,440.13 1745.58,441.8 1746.91,438.46 1748.08,433.46 1748.92,418.44 1749.42,403.43 1749.75,386.74 1750.25,370.06 1750.75,353.38 1751.42,336.69 1752.25,323.35 1753.09,313.34 1753.59,310 1753.59,309.98 1754.92,303.48 1756.09,306.81 1756.92,309.98 1758.26,316.67 1759.43,309.98 1760.76,301.81 1761.93,290.13 1763.1,276.78 1764.1,266.77 1765.27,253.43 1766.43,240.08 1767.43,231.74 1768.6,240.08 1769.94,246.75 1771.1,253.43 1772.44,258.43 1773.94,260.93 1775.78,262.6 1777.28,266.77 1778.61,273.45 1779.78,275.95 1781.11,273.45 1782.78,270.11 1784.45,266.77 1785.62,265.11 1786.45,253.43 1787.29,240.08 1788.12,230.07 1788.96,233.41 1789.79,250.09 1790.62,273.45 1791.46,288.46 1792.29,273.45 1793.13,253.43 1793.96,233.41 1794.79,223.4 1795.8,218.39 1796.63,223.4 1797.46,230.07 1798.3,236.74 1799.13,246.75 1799.97,256.76 1800.8,266.77 1801.63,275.12 1802.8,268.44 1803.97,260.1 1804.97,258.43 1805.81,270.11 1806.64,283.46 1807.47,295.14 1808.14,309.98 1808.14,310 1808.31,326.68 1808.64,343.37 1808.98,360.05 1809.48,376.73 1809.81,393.42 1810.31,410.1 1810.81,420.11 1811.98,423.45 1813.31,426.78 1814.48,428.45 1815.82,429.29 1816.65,436.79 1817.82,443.47 1818.65,451.81 1819.49,459.98 1819.5,460 1819.6,474 1820.5,475 1820.5,487 1821.5,495 1822.5,510 1823.5,520 1824.5,535 1825.5,548 1826.5,560 1827.5,572 1828.5,585 1829.5,600 1830.4,612 1831.3,622 1831.6,634.5 1832.8,646 1833.6,652.4 1834.5,661.6 1835.6,669 1836.5,675 1837.4,682 1838.5,686.8 1839.4,681.6 1840.3,678 1841.7,672 1842.3,664 1842.6,642 1843.5,634.5 1843.6,622 1844.5,610 1845.5,603 1846.6,599 1847.5,596.3 1848.4,603 1848.7,612 1849.7,622 1850.7,630 1851.5,640 1852.7,648 1853.6,656 1854.4,662.8 1855.3,657 1856.5,652.4 1857.3,649.2 1857.9,653.5 1858.8,660 1859.6,670 1860.5,677 1861.5,671 1861.6,662" fill="none" stroke="#ff0000" stroke-width="1"/></g>
<rect x="220" y="460" width="1643" height="1" fill="#000"/>
<g id="ticks"><rect x="221" y="760" width="1" height="12" fill="#fff"/><rect x="221" y="141" width="1" height="6" fill="#fff"/><rect x="264" y="759" width="1" height="13" fill="#fff"/><rect x="264" y="141" width="1" height="6" fill="#fff"/><rect x="307" y="760" width="1" height="11" fill="#fff"/><rect x="307" y="141" width="1" height="5" fill="#fff"/><rect x="351" y="753" width="1" height="25" fill="#fff"/><rect x="351" y="141" width="1" height="11" fill="#fff"/><rect x="394" y="759" width="1" height="13" fill="#fff"/><rect x="394" y="141" width="1" height="6" fill="#fff"/><rect x="437" y="759" width="1" height="13" fill="#fff"/><rect x="437" y="141" width="1" height="6" fill="#fff"/><rect x="480" y="760" width="1" height="11" fill="#fff"/><rect x="480" y="141" width="1" height="5" fill="#fff"/><rect x="524" y="760" width="1" height="11" fill="#fff"/><rect x="524" y="141" width="1" height="6" fill="#fff"/><rect x="567" y="753" width="1" height="25" fill="#fff"/><rect x="567" y="141" width="1" height="11" fill="#fff"/><rect x="610" y="760" width="1" height="11" fill="#fff"/><rect x="610" y="141" width="1" height="5" fill="#fff"/><rect x="654" y="760" width="1" height="11" fill="#fff"/><rect x="654" y="141" width="1" height="6" fill="#fff"/><rect x="697" y="759" width="1" height="13" fill="#fff"/><rect x="697" y="141" width="1" height="6" fill="#fff"/><rect x="740" y="759" width="1" height="13" fill="#fff"/><rect x="740" y="141" width="1" height="6" fill="#fff"/><rect x="783" y="753" width="1" height="25" fill="#fff"/><rect x="783" y="141" width="1" height="11" fill="#fff"/><rect x="827" y="760" width="1" height="11" fill="#fff"/><rect x="827" y="141" width="1" height="6" fill="#fff"/><rect x="870" y="759" width="1" height="13" fill="#fff"/><rect x="870" y="141" width="1" height="6" fill="#fff"/><rect x="913" y="760" width="1" height="11" fill="#fff"/><rect x="913" y="141" width="1" height="5" fill="#fff"/><rect x="957" y="760" width="1" height="11" fill="#fff"/><rect x="957" y="141" width="1" height="6" fill="#fff"/><rect x="1000" y="753" width="1" height="25" fill="#fff"/><rect x="1000" y="141" width="1" height="11" fill="#fff"/><rect x="1043" y="759" width="1" height="13" fill="#fff"/><rect x="1043" y="141" width="1" height="6" fill="#fff"/><rect x="1086" y="760" width="1" height="11" fill="#fff"/><rect x="1086" y="141" width="1" height="5" fill="#fff"/><rect x="1130" y="760" width="1" height="11" fill="#fff"/><rect x="1130" y="141" width="1" height="6" fill="#fff"/><rect x="1173" y="759" width="1" height="13" fill="#fff"/><rect x="1173" y="141" width="1" height="6" fill="#fff"/><rect x="1216" y="753" width="1" height="25" fill="#fff"/><rect x="1216" y="141" width="1" height="11" fill="#fff"/><rect x="1260" y="760" width="1" height="11" fill="#fff"/><rect x="1260" y="141" width="1" height="6" fill="#fff"/><rect x="1303" y="759" width="1" height="13" fill="#fff"/><rect x="1303" y="141" width="1" height="6" fill="#fff"/><rect x="1346" y="759" width="1" height="13" fill="#fff"/><rect x="1346" y="141" width="1" height="6" fill="#fff"/><rect x="1389" y="760" width="1" height="11" fill="#fff"/><rect x="1389" y="141" width="1" height="5" fill="#fff"/><rect x="1433" y="753" width="1" height="25" fill="#fff"/><rect x="1433" y="141" width="1" height="11" fill="#fff"/><rect x="1476" y="759" width="1" height="13" fill="#fff"/><rect x="1476" y="141" width="1" height="6" fill="#fff"/><rect x="1519" y="760" width="1" height="11" fill="#fff"/><rect x="1519" y="141" width="1" height="5" fill="#fff"/><rect x="1563" y="760" width="1" height="11" fill="#fff"/><rect x="1563" y="141" width="1" height="6" fill="#fff"/><rect x="1606" y="759" width="1" height="13" fill="#fff"/><rect x="1606" y="141" width="1" height="6" fill="#fff"/><rect x="1649" y="753" width="1" height="25" fill="#fff"/><rect x="1649" y="141" width="1" height="11" fill="#fff"/><rect x="1692" y="760" width="1" height="11" fill="#fff"/><rect x="1692" y="141" width="1" height="5" fill="#fff"/><rect x="1736" y="760" width="1" height="11" fill="#fff"/><rect x="1736" y="141" width="1" height="6" fill="#fff"/><rect x="1779" y="759" width="1" height="13" fill="#fff"/><rect x="1779" y="141" width="1" height="6" fill="#fff"/><rect x="1822" y="760" width="1" height="11" fill="#fff"/><rect x="1822" y="141" width="1" height="5" fill="#fff"/><rect x="214" y="760" width="13" height="1" fill="#fff"/><rect x="214" y="733" width="13" height="1" fill="#fff"/><rect x="215" y="706" width="11" height="1" fill="#fff"/><rect x="209" y="678" width="23" height="1" fill="#fff"/><rect x="214" y="651" width="13" height="1" fill="#fff"/><rect x="214" y="624" width="13" height="1" fill="#fff"/><rect x="214" y="596" width="13" height="1" fill="#fff"/><rect x="209" y="569" width="23" height="1" fill="#fff"/><rect x="214" y="542" width="13" height="1" fill="#fff"/><rect x="215" y="515" width="11" height="1" fill="#fff"/><rect x="214" y="487" width="13" height="1" fill="#fff"/><rect x="208" y="460" width="25" height="1" fill="#fff"/><rect x="214" y="433" width="13" height="1" fill="#fff"/><rect x="215" y="405" width="11" height="1" fill="#fff"/><rect x="214" y="378" width="13" height="1" fill="#fff"/><rect x="209" y="351" width="23" height="1" fill="#fff"/><rect x="214" y="324" width="13" height="1" fill="#fff"/><rect x="214" y="296" width="13" height="1" fill="#fff"/><rect x="214" y="269" width="13" height="1" fill="#fff"/><rect x="209" y="242" width="23" height="1" fill="#fff"/><rect x="215" y="214" width="11" height="1" fill="#fff"/><rect x="214" y="187" width="13" height="1" fill="#fff"/><rect x="214" y="160" width="13" height="1" fill="#fff"/></g>
<rect x="220.5" y="140.5" width="1642" height="625" fill="none" stroke="#000" stroke-width="1"/>
<rect x="220.5" y="90.5" width="762" height="33" fill="#858483" stroke="#000" stroke-width="1"/>
<rect x="228" y="106" width="67" height="1" fill="#ff0000"/>
<rect x="482" y="106" width="67" height="1" fill="#008000"/>
<rect x="736" y="106" width="67" height="1" fill="#0000ff"/>
</g>
<g id="labels">
<text transform="translate(959.85,57.7) scale(1,1.03)" font-size="37.33" fill="#fff" text-anchor="middle" font-weight="bold">Value Graph</text>
<text transform="translate(315,116.2) scale(1,1.02)" font-size="28.3" fill="#fff" text-anchor="start">flowX</text>
<text transform="translate(569.5,116.2) scale(1,1.02)" font-size="28.3" fill="#fff" text-anchor="start">bodyX</text>
<text transform="translate(823.5,116.2) scale(1,1.02)" font-size="28.3" fill="#fff" text-anchor="start">GyrX</text>
<g transform="translate(332.42,819) scale(1.2,1.04)" clip-path="url(#k0)"><text font-size="33.3" fill="#fff">1</text></g><text transform="translate(350.5,819) scale(1,1.04)" font-size="33.3" fill="#fff" text-anchor="start">0</text>
<g transform="translate(548.42,819) scale(1.2,1.04)" clip-path="url(#k1)"><text font-size="33.3" fill="#fff">1</text></g><text transform="translate(566.5,819) scale(1,1.04)" font-size="33.3" fill="#fff" text-anchor="start">5</text>
<text transform="translate(782.5,819) scale(1,1.04)" font-size="33.3" fill="#fff" text-anchor="middle" letter-spacing="-0.55">20</text>
<text transform="translate(999.5,819) scale(1,1.04)" font-size="33.3" fill="#fff" text-anchor="middle" letter-spacing="-0.55">25</text>
<text transform="translate(1215.5,819) scale(1,1.04)" font-size="33.3" fill="#fff" text-anchor="middle" letter-spacing="-0.55">30</text>
<text transform="translate(1432.5,819) scale(1,1.04)" font-size="33.3" fill="#fff" text-anchor="middle" letter-spacing="-0.55">35</text>
<text transform="translate(1648.5,819) scale(1,1.04)" font-size="33.3" fill="#fff" text-anchor="middle" letter-spacing="-0.55">40</text>
<text transform="translate(889.345,868.7) scale(1,1.04)" font-size="32.65" fill="#fff" text-anchor="start" font-weight="bold">Line Number (</text><g transform="translate(1108.83,868.7) scale(1.1,1.04)" clip-path="url(#k2)"><text font-size="32.65" fill="#fff" font-weight="bold">1</text></g><text transform="translate(1127,868.7) scale(1,1.04)" font-size="32.65" fill="#fff" text-anchor="start" font-weight="bold">0</text><text transform="translate(1154.69,867.1) scale(0.9,0.8944)" font-size="32.65" fill="#fff" text-anchor="middle" font-weight="bold">^</text><text transform="translate(1164.22,868.7) scale(1,1.04)" font-size="32.65" fill="#fff" text-anchor="start" font-weight="bold">3)</text>
<text transform="translate(148.7,254) scale(1,1.056)" font-size="32.8" fill="#ff0000" text-anchor="middle">0.4</text>
<text transform="translate(148.7,363) scale(1,1.056)" font-size="32.8" fill="#ff0000" text-anchor="middle">0.2</text>
<text transform="translate(148.7,472) scale(1,1.056)" font-size="32.8" fill="#ff0000" text-anchor="middle">0.0</text>
<text transform="translate(134.8,581) scale(1,1.056)" font-size="32.8" fill="#ff0000" text-anchor="middle">-0.2</text>
<text transform="translate(134.8,690) scale(1,1.056)" font-size="32.8" fill="#ff0000" text-anchor="middle">-0.4</text>
<text transform="translate(54.4,453.3) rotate(-90) scale(1,1.05)" font-size="33" fill="#ff0000" text-anchor="middle" font-weight="bold">Output</text>
</g>
</svg>
<div id="mode"><span>Stabilize</span></div>
</body>
</html>
